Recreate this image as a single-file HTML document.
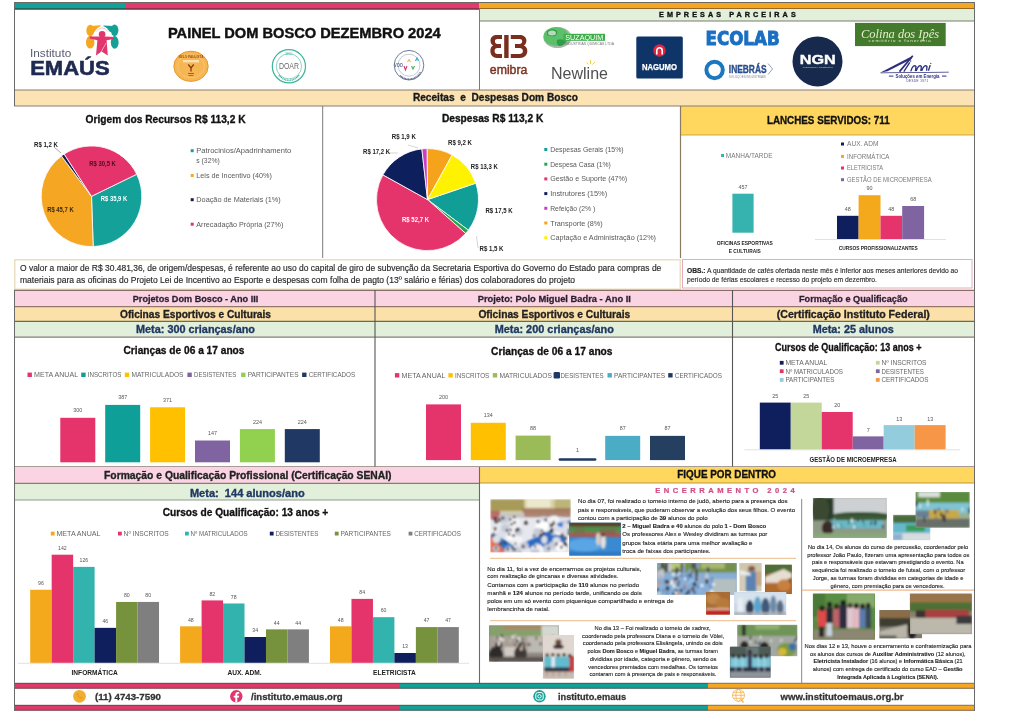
<!DOCTYPE html>
<html><head><meta charset="utf-8"><title>Painel Dom Bosco Dezembro 2024</title>
<style>html,body{margin:0;padding:0;background:#fff;overflow:hidden;}svg{display:block;}</style></head>
<body><svg width="1024" height="724" viewBox="0 0 1024 724" font-family='"Liberation Sans", Arial, sans-serif'>
<defs><filter id="bl" x="-5%" y="-5%" width="110%" height="110%"><feGaussianBlur stdDeviation="0.8"/></filter></defs>
<rect width="1024" height="724" fill="#fff"/>
<rect x="14" y="2.5" width="112" height="7" fill="#12A19A"/>
<rect x="126" y="2.5" width="353.5" height="7" fill="#E03A6E"/>
<rect x="479.5" y="2.5" width="494.5" height="7" fill="#F5A623"/>
<line x1="14" y1="2.5" x2="974" y2="2.5" stroke="#6f6a60" stroke-width="1"/>
<line x1="14" y1="9" x2="974" y2="9" stroke="#3b2a20" stroke-width="1.1"/>
<rect x="480" y="9" width="494" height="12" fill="#E2EFDA"/>
<line x1="480" y1="21" x2="974" y2="21" stroke="#7c7c72" stroke-width="1"/>
<text x="659" y="16.6" font-size="7.2" fill="#111" font-weight="bold" textLength="136.7" lengthAdjust="spacing" stroke="#111" stroke-width="0.35">EMPRESAS PARCEIRAS</text>
<rect x="14" y="90" width="960" height="16" fill="#FCE3B3"/>
<line x1="14" y1="90" x2="974" y2="90" stroke="#8a7f72" stroke-width="1.2"/>
<line x1="14" y1="106" x2="680" y2="106" stroke="#8a7f72" stroke-width="1.2"/>
<text x="495.4" y="101.4" font-size="10.6" fill="#1a1a1a" font-weight="bold" stroke="#1a1a1a" stroke-width="0.32" text-anchor="middle" textLength="165" lengthAdjust="spacingAndGlyphs" xml:space="preserve">Receitas  e  Despesas Dom Bosco</text>
<line x1="479.5" y1="9" x2="479.5" y2="90" stroke="#7a7a7a" stroke-width="1"/>
<line x1="322.7" y1="106" x2="322.7" y2="258" stroke="#7a7a7a" stroke-width="1"/>
<rect x="680" y="106" width="294" height="29" fill="#FFD65E"/>
<line x1="680" y1="106" x2="974" y2="106" stroke="#8a7f72" stroke-width="1.2"/>
<line x1="680" y1="135" x2="974" y2="135" stroke="#b89a40" stroke-width="0.8"/>
<line x1="680.5" y1="106" x2="680.5" y2="258" stroke="#8a7a60" stroke-width="1.2"/>
<text x="828.3" y="124.1" font-size="11.4" fill="#111" font-weight="bold" stroke="#111" stroke-width="0.34" text-anchor="middle" textLength="122.8" lengthAdjust="spacingAndGlyphs">LANCHES SERVIDOS: 711</text>
<rect x="14.75" y="259.75" width="665.5" height="29.5" fill="#fff" stroke="#EADFC0" stroke-width="1.5"/>
<rect x="682.5" y="259.5" width="289.5" height="28.5" fill="#fff" stroke="#E6A9BE" stroke-width="1"/>
<rect x="14" y="290" width="960" height="16" fill="#FAD4E3"/>
<rect x="14" y="306" width="960" height="15" fill="#FCE0AA"/>
<rect x="14" y="321" width="960" height="16" fill="#E2EFDA"/>
<line x1="14" y1="290.4" x2="974" y2="290.4" stroke="#8a6e64" stroke-width="1.2"/>
<line x1="14" y1="306.6" x2="974" y2="306.6" stroke="#94786a" stroke-width="1.2"/>
<line x1="14" y1="321.4" x2="974" y2="321.4" stroke="#6a6a4e" stroke-width="1.2"/>
<line x1="14" y1="337.2" x2="974" y2="337.2" stroke="#80807a" stroke-width="1.3"/>
<line x1="375" y1="290" x2="375" y2="467" stroke="#555" stroke-width="1.1"/>
<line x1="732.5" y1="290" x2="732.5" y2="467" stroke="#555" stroke-width="1.1"/>
<line x1="14" y1="466.8" x2="974" y2="466.8" stroke="#8c7b72" stroke-width="1.2"/>
<rect x="14" y="467" width="465.5" height="16" fill="#FAD4E3"/>
<rect x="14" y="483" width="465.5" height="17" fill="#E2EFDA"/>
<line x1="14" y1="483.3" x2="479" y2="483.3" stroke="#8c7b72" stroke-width="1.2"/>
<line x1="14" y1="500" x2="479" y2="500" stroke="#8c9a8c" stroke-width="1"/>
<rect x="480" y="467" width="494" height="16" fill="#FFD65E"/>
<line x1="480" y1="483" x2="974" y2="483" stroke="#b89a40" stroke-width="1"/>
<line x1="479.5" y1="467" x2="479.5" y2="683" stroke="#6a6a6a" stroke-width="1.1"/>
<rect x="14" y="683" width="386" height="5.5" fill="#DD3A6A"/>
<rect x="400" y="683" width="308" height="5.5" fill="#13A097"/>
<rect x="708" y="683" width="266" height="5.5" fill="#F5A623"/>
<line x1="14" y1="688.3" x2="974" y2="688.3" stroke="#3a2a2a" stroke-width="0.6"/>
<line x1="14" y1="683.2" x2="974" y2="683.2" stroke="#3a2a2a" stroke-width="0.5"/>
<rect x="14" y="705" width="386" height="5.5" fill="#DD3A6A"/>
<rect x="400" y="705" width="308" height="5.5" fill="#13A097"/>
<rect x="708" y="705" width="266" height="5.5" fill="#F5A623"/>
<line x1="14" y1="710.3" x2="974" y2="710.3" stroke="#3a2a2a" stroke-width="0.6"/>
<line x1="14" y1="705.2" x2="974" y2="705.2" stroke="#3a2a2a" stroke-width="0.5"/>
<line x1="14.5" y1="2" x2="14.5" y2="106" stroke="#6a6a6a" stroke-width="1"/>
<line x1="14.5" y1="290" x2="14.5" y2="711" stroke="#6a6a6a" stroke-width="1"/>
<line x1="974.5" y1="2" x2="974.5" y2="711" stroke="#6a6a6a" stroke-width="1"/>
<text x="167.9" y="37.6" font-size="14" fill="#111" font-weight="bold" stroke="#111" stroke-width="0.42" textLength="272.8" lengthAdjust="spacingAndGlyphs">PAINEL DOM BOSCO DEZEMBRO 2024</text>
<text x="29.9" y="57" font-size="10" fill="#5a5d70" textLength="41.4" lengthAdjust="spacingAndGlyphs">Instituto</text>
<text x="30.2" y="74.6" font-size="20.3" fill="#1f2a50" font-weight="bold" stroke="#1f2a50" stroke-width="0.61" textLength="79.5" lengthAdjust="spacingAndGlyphs">EMAÚS</text>
<g>
<ellipse cx="90.3" cy="30.5" rx="3.9" ry="5.8" fill="#F4A71F"/>
<ellipse cx="90.2" cy="42.2" rx="4.2" ry="6.4" fill="#F4A71F"/>
<polygon points="91,26 100.6,25.3 100.2,27.8 94.5,31.8 91,33" fill="#F4A71F"/>
<ellipse cx="114.6" cy="30.3" rx="3.8" ry="5.8" fill="#15A096"/>
<ellipse cx="114.7" cy="42.4" rx="3.9" ry="6.3" fill="#15A096"/>
<polygon points="113.5,26 103.4,25.6 103.8,27.6 110,31.8 113.5,33" fill="#15A096"/>
<circle cx="102.1" cy="33.6" r="6.4" fill="none" stroke="#fff" stroke-width="1.8"/>
<path d="M96.6,31.5 A6,6 0 0 1 107.6,31.5" fill="none" stroke="#EE9DB6" stroke-width="0.55"/>
<circle cx="102.1" cy="34.2" r="3.3" fill="#E2366E"/>
<polygon points="98.6,36.4 89.8,36.6 89.6,38.4 97.4,40.2 96,55.6 101.6,51.4 107.8,55.6 106.6,40.2 113.9,38.9 113.7,37 105.6,36.4" fill="#E2366E"/>
<path d="M106.2,43 L100.4,53.2" stroke="#fff" stroke-width="0.55"/>
</g>
<g>
<ellipse cx="191" cy="66.3" rx="17.2" ry="15" fill="#F6B653" stroke="#E8962A" stroke-width="1"/>
<ellipse cx="191" cy="66.3" rx="13.5" ry="11.5" fill="none" stroke="#F9CF85" stroke-width="0.6"/>
<text x="191" y="58" font-size="3.2" fill="#A0521A" text-anchor="middle" font-weight="bold">SELO PAULISTA</text>
<rect x="183" y="60" width="16" height="2.4" fill="#FBE0B0"/>
<path d="M188.3,64.5 L191,68 L193.7,64.5 M191,68 L191,71.5" stroke="#8A3A12" stroke-width="1.3" fill="none"/>
<rect x="188" y="73" width="6" height="0.9" fill="#A0502A"/>
<rect x="188.5" y="75" width="5" height="0.8" fill="#A0502A"/>
</g>
<g>
<circle cx="288.9" cy="66.3" r="16.6" fill="#fff" stroke="#3FB39C" stroke-width="1.2"/>
<circle cx="288.9" cy="66.3" r="12.6" fill="none" stroke="#3FB39C" stroke-width="0.6"/>
<text x="288.9" y="69.3" font-size="8.2" fill="#6a6a6a" text-anchor="middle" textLength="20" lengthAdjust="spacingAndGlyphs">DOAR</text>
<text x="288.9" y="54.5" font-size="2.6" fill="#3FB39C" text-anchor="middle">SELO</text>
<path d="M279,75 A12,12 0 0 0 299,75" stroke="#3FB39C" stroke-width="1.4" fill="none" stroke-dasharray="1,0.6"/>
</g>
<g>
<circle cx="409" cy="65.2" r="14.8" fill="#fff" stroke="#5d6d8e" stroke-width="0.9"/>
<circle cx="409" cy="65.2" r="11" fill="none" stroke="#8a97b0" stroke-width="0.5"/>
<path d="M400,75.5 A12.8,12.8 0 0 0 420.5,72" stroke="#5d6d8e" stroke-width="1.6" fill="none" stroke-dasharray="1,0.5"/>
<text x="394" y="66.5" font-size="6" fill="#5d6d8e" font-weight="bold" textLength="9" lengthAdjust="spacingAndGlyphs">VOO</text>
<path d="M404,66 L405.5,70 L407,66" stroke="#D03A6A" stroke-width="1.1" fill="none"/>
<path d="M407.5,62 L409,59.5 L410.5,62" stroke="#F4B54A" stroke-width="1.1" fill="none"/>
<path d="M411.5,66 L413,69 L414.5,66" stroke="#4CAF50" stroke-width="1.1" fill="none"/>
<path d="M415.5,61 L417,58 L418.5,61" stroke="#29A8D8" stroke-width="1.1" fill="none"/>
</g>
<g fill="#7a2e1e">
<path d="M502,35 H496.5 C492.6,35 490.5,37.5 490.5,40.8 C490.5,43 491.6,44.8 493.2,45.6 C491.3,46.4 490.4,48.5 490.4,51 C490.4,55 493,58 497,58 H502 V54 H497.5 C495.5,54 494.6,52.8 494.6,51 C494.6,49.2 495.5,48 497.5,48 H501 V44 H497.5 C495.8,44 494.9,42.8 494.9,41.2 C494.9,39.7 495.8,39 497.5,39 H502 Z"/>
<rect x="504.2" y="35" width="4.4" height="23"/>
<path d="M510.8,35 H519.8 C524,35 526.4,37.5 526.4,40.8 C526.4,43 525.3,44.8 523.8,45.6 C525.8,46.4 527.3,48.5 527.3,51 C527.3,55 524.5,58 520,58 H510.8 V54 H519.5 C521.5,54 522.9,52.8 522.9,51 C522.9,49.2 521.5,48 519.5,48 H515 V44 H519.5 C521.2,44 522.2,42.8 522.2,41.2 C522.2,39.7 521.2,39 519.5,39 H510.8 Z"/>
</g>
<text x="489.8" y="74.4" font-size="12.6" fill="#7a3422" textLength="37.6" lengthAdjust="spacingAndGlyphs" stroke="#7a3422" stroke-width="0.45">emibra</text>
<g>
<ellipse cx="557.5" cy="37.5" rx="14" ry="10.6" fill="#a8b8a8"/>
<ellipse cx="556" cy="36.5" rx="12.5" ry="9.6" fill="#5cbf6a"/>
<path d="M547,31 q4,-3 9,-1 q3,3 -1,6 q-4,1 -8,-1 z M557,40 q5,-2 9,1 q-1,5 -7,5 q-3,-2 -2,-6z" fill="#2e9e48"/>
<ellipse cx="552" cy="33" rx="4" ry="2.5" fill="#d8e8d8" opacity="0.8"/>
<rect x="563.6" y="33.8" width="41.4" height="7" fill="#3DAE49"/>
</g>
<text x="584.3" y="40" font-size="6.6" fill="#fff" text-anchor="middle" textLength="38" lengthAdjust="spacingAndGlyphs">SUZAQUIM</text>
<text x="565" y="45.4" font-size="3.2" fill="#777" textLength="49" lengthAdjust="spacingAndGlyphs">INDUSTRIAS QUIMICAS LTDA</text>
<text x="551" y="79" font-size="16.5" fill="#505050" textLength="57" lengthAdjust="spacingAndGlyphs" font-family='"Liberation Sans", Arial, sans-serif'>Newline</text>
<g stroke="#F2C230" stroke-width="0.8"><line x1="590.5" y1="64" x2="590.5" y2="60"/><line x1="592.5" y1="64.5" x2="595" y2="62"/><line x1="588.5" y1="64.5" x2="586.5" y2="62.5"/></g>
<rect x="636.3" y="36.4" width="46.5" height="42.2" fill="#0F3468" rx="1.5"/>
<circle cx="659.5" cy="50.5" r="6.2" fill="#E2233F"/><path d="M656.8,54.5 v-4 a2.7,2.7 0 0 1 5.4,0 v4" stroke="#fff" stroke-width="1.6" fill="none"/>
<text x="659.5" y="70" font-size="8.4" fill="#fff" font-weight="bold" stroke="#fff" stroke-width="0.25" text-anchor="middle" textLength="35" lengthAdjust="spacingAndGlyphs">NAGUMO</text>
<text x="705.6" y="44.7" font-size="19.6" fill="#1A6FC2" font-weight="bold" textLength="74" lengthAdjust="spacingAndGlyphs" font-family='"DejaVu Sans", "Liberation Sans", sans-serif' stroke="#1A6FC2" stroke-width="1">ECOLAB</text>
<circle cx="714.6" cy="70" r="8.2" fill="none" stroke="#1B78BE" stroke-width="4"/>
<text x="728.8" y="73.3" font-size="11.2" fill="#2A4D8E" font-weight="bold" stroke="#2A4D8E" stroke-width="0.34" textLength="37.8" lengthAdjust="spacingAndGlyphs">INEBRÁS</text>
<path d="M768,63.5 L772.5,69 L768,74.5" stroke="#7a8aa0" stroke-width="0.8" fill="none"/>
<text x="728.8" y="77.8" font-size="2.6" fill="#888" textLength="37" lengthAdjust="spacingAndGlyphs">SOLUÇÕES INDUSTRIAIS</text>
<circle cx="817.5" cy="61.4" r="25" fill="#17294D"/>
<text x="817.8" y="63.8" font-size="13.6" fill="#fff" font-weight="bold" stroke="#fff" stroke-width="0.41" text-anchor="middle" textLength="36" lengthAdjust="spacingAndGlyphs">NGN</text>
<text x="817.8" y="68.3" font-size="2.5" fill="#c8d0e0" text-anchor="middle" textLength="30" lengthAdjust="spacingAndGlyphs">engenharia e construções</text>
<rect x="855" y="22.9" width="90.7" height="23.2" fill="#437A2C"/>
<text x="900" y="37.5" font-size="13" fill="#E6EFCF" text-anchor="middle" textLength="78" lengthAdjust="spacingAndGlyphs" font-family='"Liberation Serif", serif' font-style="italic">Colina dos Ipês</text>
<text x="900" y="42.4" font-size="3.4" fill="#D8E6C0" text-anchor="middle" textLength="63" lengthAdjust="spacingAndGlyphs" letter-spacing="0.6">cemitério e funerária</text>
<g fill="#2C2F7E" stroke="none">
<polygon points="880.5,72.4 912.8,55.8 911.2,59.2 887.5,71.2"/>
<polygon points="880.5,72.4 948.8,71.8 948.8,72.6 880.5,73.2"/>
<path d="M912.8,55.8 L899.5,71.6" stroke="#2C2F7E" stroke-width="1.7" fill="none"/>
<path d="M903.8,71.6 L909.8,62.4 M910.8,71.4 C912.3,66.2 914.3,64.8 916,66.4 L915.4,71.2 M916.2,71 C917.7,66.2 919.7,64.8 921.4,66.4 L920.8,71 M921.8,70.8 C923.3,66 925.3,64.8 927,66.4 L926.6,70.8 M928.4,70.8 L930.2,65.2" stroke="#2C2F7E" stroke-width="1.3" fill="none"/>
<circle cx="910.6" cy="61" r="0.7"/><circle cx="930.8" cy="63.4" r="0.6"/><circle cx="930.5" cy="65.4" r="0.4"/>
</g>
<text x="917.5" y="78" font-size="5.2" fill="#2C2F7E" font-weight="bold" text-anchor="middle" textLength="44" lengthAdjust="spacingAndGlyphs">Soluções em Energia</text>
<rect x="888.9" y="75.6" width="4.5" height="1" fill="#2C2F7E"/><rect x="942" y="75.6" width="4.5" height="1" fill="#2C2F7E"/>
<text x="917.5" y="82.3" font-size="3" fill="#2C2F7E" text-anchor="middle" textLength="22" lengthAdjust="spacingAndGlyphs" letter-spacing="0.5">DESDE 1971</text>
<text x="165.6" y="122.7" font-size="11.2" fill="#111" font-weight="bold" stroke="#111" stroke-width="0.34" text-anchor="middle" textLength="160" lengthAdjust="spacingAndGlyphs">Origem dos Recursos R$ 113,2 K</text>
<path d="M91.50,196.30 L136.71,174.25 A50.3,50.3 0 0 1 93.20,246.57 Z" fill="#13A19A" stroke="#fff" stroke-width="0.8"/>
<path d="M91.50,196.30 L93.20,246.57 A50.3,50.3 0 0 1 61.42,155.98 Z" fill="#F5A623" stroke="#fff" stroke-width="0.8"/>
<path d="M91.50,196.30 L61.42,155.98 A50.3,50.3 0 0 1 64.17,154.07 Z" fill="#1B1B4A" stroke="#fff" stroke-width="0.8"/>
<path d="M91.50,196.30 L64.17,154.07 A50.3,50.3 0 0 1 136.71,174.25 Z" fill="#E5336B" stroke="#fff" stroke-width="0.8"/>
<line x1="61" y1="153" x2="54" y2="147" stroke="#555" stroke-width="0.5"/>
<text x="46" y="146.6" font-size="6.3" fill="#222" font-weight="bold" text-anchor="middle" textLength="24" lengthAdjust="spacingAndGlyphs">R$ 1,2 K</text>
<text x="102.6" y="166.3" font-size="6.3" fill="#4a1020" font-weight="bold" text-anchor="middle" textLength="26.5" lengthAdjust="spacingAndGlyphs">R$ 30,5 K</text>
<text x="114" y="201.3" font-size="6.3" fill="#fff" font-weight="bold" text-anchor="middle" textLength="26.5" lengthAdjust="spacingAndGlyphs">R$ 35,9 K</text>
<text x="60.4" y="212.3" font-size="6.3" fill="#3a2a10" font-weight="bold" text-anchor="middle" textLength="26.5" lengthAdjust="spacingAndGlyphs">R$ 45,7 K</text>
<rect x="190.7" y="149.20000000000002" width="3" height="3" fill="#13A19A"/>
<text x="196.3" y="153.20000000000002" font-size="7.4" fill="#595959" textLength="95" lengthAdjust="spacingAndGlyphs">Patrocinios/Apadrinhamento</text>
<rect x="190.7" y="174.0" width="3" height="3" fill="#F5A623"/>
<text x="196.3" y="178.0" font-size="7.4" fill="#595959" textLength="75.5" lengthAdjust="spacingAndGlyphs">Leis de Incentivo (40%)</text>
<rect x="190.7" y="198.20000000000002" width="3" height="3" fill="#1B1B4A"/>
<text x="196.3" y="202.20000000000002" font-size="7.4" fill="#595959" textLength="84.5" lengthAdjust="spacingAndGlyphs">Doação de Materiais (1%)</text>
<rect x="190.7" y="222.70000000000002" width="3" height="3" fill="#E5336B"/>
<text x="196.3" y="226.70000000000002" font-size="7.4" fill="#595959" textLength="87" lengthAdjust="spacingAndGlyphs">Arrecadação Própria (27%)</text>
<text x="196.3" y="162.8" font-size="7.4" fill="#595959" textLength="23.5" lengthAdjust="spacingAndGlyphs">s (32%)</text>
<text x="492.6" y="121.7" font-size="11.2" fill="#111" font-weight="bold" stroke="#111" stroke-width="0.34" text-anchor="middle" textLength="101.3" lengthAdjust="spacingAndGlyphs">Despesas R$ 113,2 K</text>
<path d="M427.50,199.60 L475.78,183.16 A51,51 0 0 1 468.33,230.15 Z" fill="#109E96" stroke="#fff" stroke-width="0.8"/>
<path d="M427.50,199.60 L468.33,230.15 A51,51 0 0 1 465.66,233.44 Z" fill="#26A84A" stroke="#fff" stroke-width="0.8"/>
<path d="M427.50,199.60 L465.66,233.44 A51,51 0 0 1 382.90,174.86 Z" fill="#E5336B" stroke="#fff" stroke-width="0.8"/>
<path d="M427.50,199.60 L382.90,174.86 A51,51 0 0 1 421.88,148.91 Z" fill="#0D1F5C" stroke="#fff" stroke-width="0.8"/>
<path d="M427.50,199.60 L421.88,148.91 A51,51 0 0 1 427.24,148.60 Z" fill="#C93FBE" stroke="#fff" stroke-width="0.8"/>
<path d="M427.50,199.60 L427.24,148.60 A51,51 0 0 1 452.18,154.97 Z" fill="#F5A31B" stroke="#fff" stroke-width="0.8"/>
<path d="M427.50,199.60 L452.18,154.97 A51,51 0 0 1 475.78,183.16 Z" fill="#FFF200" stroke="#fff" stroke-width="0.8"/>
<line x1="408" y1="145" x2="418" y2="148" stroke="#aaa" stroke-width="0.5"/>
<line x1="385" y1="153" x2="398" y2="153" stroke="#aaa" stroke-width="0.5"/>
<line x1="476.5" y1="236" x2="478" y2="248" stroke="#aaa" stroke-width="0.5"/>
<text x="403.8" y="138.6" font-size="6.3" fill="#222" font-weight="bold" text-anchor="middle" textLength="24" lengthAdjust="spacingAndGlyphs">R$ 1,9 K</text>
<text x="460" y="145.4" font-size="6.3" fill="#222" font-weight="bold" text-anchor="middle" textLength="24" lengthAdjust="spacingAndGlyphs">R$ 9,2 K</text>
<text x="376.6" y="153.5" font-size="6.3" fill="#222" font-weight="bold" text-anchor="middle" textLength="27" lengthAdjust="spacingAndGlyphs">R$ 17,2 K</text>
<text x="484.3" y="169.2" font-size="6.3" fill="#222" font-weight="bold" text-anchor="middle" textLength="27" lengthAdjust="spacingAndGlyphs">R$ 13,3 K</text>
<text x="499" y="213.1" font-size="6.3" fill="#222" font-weight="bold" text-anchor="middle" textLength="27" lengthAdjust="spacingAndGlyphs">R$ 17,5 K</text>
<text x="415.5" y="221.6" font-size="6.3" fill="#fff" font-weight="bold" text-anchor="middle" textLength="27" lengthAdjust="spacingAndGlyphs">R$ 52,7 K</text>
<text x="491.5" y="251.2" font-size="6.3" fill="#222" font-weight="bold" text-anchor="middle" textLength="24" lengthAdjust="spacingAndGlyphs">R$ 1,5 K</text>
<rect x="544.3" y="148.0" width="3" height="3" fill="#109E96"/>
<text x="550.2" y="152.0" font-size="7.4" fill="#595959" textLength="73.5" lengthAdjust="spacingAndGlyphs">Despesas Gerais (15%)</text>
<rect x="544.3" y="162.7" width="3" height="3" fill="#26A84A"/>
<text x="550.2" y="166.7" font-size="7.4" fill="#595959" textLength="60.5" lengthAdjust="spacingAndGlyphs">Despesa Casa (1%)</text>
<rect x="544.3" y="177.4" width="3" height="3" fill="#E5336B"/>
<text x="550.2" y="181.4" font-size="7.4" fill="#595959" textLength="77" lengthAdjust="spacingAndGlyphs">Gestão e Suporte (47%)</text>
<rect x="544.3" y="192.1" width="3" height="3" fill="#0D1F5C"/>
<text x="550.2" y="196.1" font-size="7.4" fill="#595959" textLength="57" lengthAdjust="spacingAndGlyphs">Instrutores (15%)</text>
<rect x="544.3" y="206.79999999999998" width="3" height="3" fill="#C93FBE"/>
<text x="550.2" y="210.79999999999998" font-size="7.4" fill="#595959" textLength="45" lengthAdjust="spacingAndGlyphs">Refeição (2% )</text>
<rect x="544.3" y="221.5" width="3" height="3" fill="#F5A31B"/>
<text x="550.2" y="225.5" font-size="7.4" fill="#595959" textLength="52.5" lengthAdjust="spacingAndGlyphs">Transporte (8%)</text>
<rect x="544.3" y="236.2" width="3" height="3" fill="#FFF200"/>
<text x="550.2" y="240.2" font-size="7.4" fill="#595959" textLength="105.8" lengthAdjust="spacingAndGlyphs">Captação e Administração (12%)</text>
<rect x="721" y="154" width="3" height="3" fill="#36B3AE"/>
<text x="725.8" y="158" font-size="6.6" fill="#7a7a7a" textLength="46.7" lengthAdjust="spacingAndGlyphs">MANHA/TARDE</text>
<rect x="732.4" y="193.7" width="21.2" height="39" fill="#36B3AE"/>
<text x="743" y="189" font-size="5.4" fill="#555" text-anchor="middle">457</text>
<text x="744.8" y="245.2" font-size="5.4" fill="#222" font-weight="bold" text-anchor="middle" textLength="56" lengthAdjust="spacingAndGlyphs">OFICINAS ESPORTIVAS</text>
<text x="744.8" y="252.8" font-size="5.4" fill="#222" font-weight="bold" text-anchor="middle" textLength="32" lengthAdjust="spacingAndGlyphs">E CULTURAIS</text>
<rect x="841" y="142.5" width="3" height="3" fill="#0F1F5E"/>
<text x="847" y="146.4" font-size="6.6" fill="#7a7a7a" textLength="31.5" lengthAdjust="spacingAndGlyphs">AUX. ADM</text>
<rect x="841" y="154.9" width="3" height="3" fill="#F4A81C"/>
<text x="847" y="158.8" font-size="6.6" fill="#7a7a7a" textLength="42.5" lengthAdjust="spacingAndGlyphs">INFORMÁTICA</text>
<rect x="841" y="166.5" width="3" height="3" fill="#E5336B"/>
<text x="847" y="170.4" font-size="6.6" fill="#7a7a7a" textLength="36" lengthAdjust="spacingAndGlyphs">ELETRICISTA</text>
<rect x="841" y="178.2" width="3" height="3" fill="#8064A2"/>
<text x="847" y="182.1" font-size="6.6" fill="#7a7a7a" textLength="84.7" lengthAdjust="spacingAndGlyphs">GESTÃO DE MICROEMPRESA</text>
<rect x="837" y="215.8" width="21.600000000000023" height="23.19999999999999" fill="#0F1F5E"/>
<text x="847.8" y="210.8" font-size="5.4" fill="#555" text-anchor="middle">48</text>
<rect x="858.6" y="195.2" width="21.899999999999977" height="43.80000000000001" fill="#F4A81C"/>
<text x="869.55" y="190.2" font-size="5.4" fill="#555" text-anchor="middle">90</text>
<rect x="880.5" y="215.8" width="21.700000000000045" height="23.19999999999999" fill="#E5336B"/>
<text x="891.35" y="210.8" font-size="5.4" fill="#555" text-anchor="middle">48</text>
<rect x="902.2" y="206" width="21.899999999999977" height="33" fill="#8064A2"/>
<text x="913.1500000000001" y="201" font-size="5.4" fill="#555" text-anchor="middle">68</text>
<line x1="815" y1="239.5" x2="946" y2="239.5" stroke="#d9d9d9" stroke-width="0.8"/>
<text x="878.3" y="250" font-size="5.4" fill="#222" font-weight="bold" text-anchor="middle" textLength="79" lengthAdjust="spacingAndGlyphs">CURSOS PROFISSIONALIZANTES</text>
<text x="20" y="271.3" font-size="8.7" fill="#2a2a2a" textLength="641.3" lengthAdjust="spacingAndGlyphs" stroke="#2a2a2a" stroke-width="0.16">O valor a maior de R$ 30.481,36, de origem/despesas, é referente ao uso do capital de giro de subvenção da Secretaria Esportiva do Governo do Estado para compras de</text>
<text x="20" y="282.7" font-size="8.7" fill="#2a2a2a" textLength="555" lengthAdjust="spacingAndGlyphs" stroke="#2a2a2a" stroke-width="0.16">materiais para as oficinas do Projeto Lei de Incentivo ao Esporte e despesas com folha de pagto (13º salário e férias) dos colaboradores do projeto</text>
<text x="687" y="272.6" font-size="7.7" fill="#222" font-weight="bold" textLength="18.5" lengthAdjust="spacingAndGlyphs" stroke="#222" stroke-width="0.2">OBS.:</text>
<text x="707" y="272.6" font-size="7.7" fill="#2a2a2a" textLength="251" lengthAdjust="spacingAndGlyphs" stroke="#2a2a2a" stroke-width="0.14">A quantidade de cafés ofertada neste mês é inferior aos meses anteriores devido ao</text>
<text x="687" y="281.7" font-size="7.7" fill="#2a2a2a" textLength="190" lengthAdjust="spacingAndGlyphs" stroke="#2a2a2a" stroke-width="0.14">período de férias escolares e recesso do projeto em dezembro.</text>
<text x="195.5" y="301.7" font-size="8.7" fill="#2a1f30" font-weight="bold" stroke="#2a1f30" stroke-width="0.26" text-anchor="middle" textLength="125.5" lengthAdjust="spacingAndGlyphs">Projetos Dom Bosco - Ano III</text>
<text x="195.5" y="317.6" font-size="10.4" fill="#222" font-weight="bold" stroke="#222" stroke-width="0.31" text-anchor="middle" textLength="151" lengthAdjust="spacingAndGlyphs">Oficinas Esportivos e Culturais</text>
<text x="195.5" y="333.3" font-size="10.4" fill="#1F3864" font-weight="bold" stroke="#1F3864" stroke-width="0.31" text-anchor="middle" textLength="119" lengthAdjust="spacingAndGlyphs">Meta: 300 crianças/ano</text>
<text x="554.3" y="301.7" font-size="8.7" fill="#2a1f30" font-weight="bold" stroke="#2a1f30" stroke-width="0.26" text-anchor="middle" textLength="153.2" lengthAdjust="spacingAndGlyphs">Projeto: Polo Miguel Badra - Ano II</text>
<text x="554.3" y="317.6" font-size="10.4" fill="#222" font-weight="bold" stroke="#222" stroke-width="0.31" text-anchor="middle" textLength="151.8" lengthAdjust="spacingAndGlyphs">Oficinas Esportivos e Culturais</text>
<text x="554.3" y="333.3" font-size="10.4" fill="#1F3864" font-weight="bold" stroke="#1F3864" stroke-width="0.31" text-anchor="middle" textLength="119.3" lengthAdjust="spacingAndGlyphs">Meta: 200 crianças/ano</text>
<text x="853.3" y="301.7" font-size="8.7" fill="#2a1f30" font-weight="bold" stroke="#2a1f30" stroke-width="0.26" text-anchor="middle" textLength="108.6" lengthAdjust="spacingAndGlyphs">Formação e Qualificação</text>
<text x="853.3" y="317.6" font-size="10.4" fill="#222" font-weight="bold" stroke="#222" stroke-width="0.31" text-anchor="middle" textLength="153.2" lengthAdjust="spacingAndGlyphs">(Certificação Instituto Federal)</text>
<text x="853.3" y="333.3" font-size="10.4" fill="#1F3864" font-weight="bold" stroke="#1F3864" stroke-width="0.31" text-anchor="middle" textLength="81.2" lengthAdjust="spacingAndGlyphs">Meta: 25 alunos</text>
<text x="184" y="353.6" font-size="10.4" fill="#111" font-weight="bold" stroke="#111" stroke-width="0.31" text-anchor="middle" textLength="121" lengthAdjust="spacingAndGlyphs">Crianças de 06 a 17 anos</text>
<rect x="27.5" y="372.6" width="4.4" height="4.4" fill="#E5336B"/>
<text x="34.1" y="377.35" font-size="7.3" fill="#666" textLength="44" lengthAdjust="spacingAndGlyphs">META ANUAL</text>
<rect x="81.2" y="372.6" width="4.4" height="4.4" fill="#0E9F98"/>
<text x="87.80000000000001" y="377.35" font-size="7.3" fill="#666" textLength="33.6" lengthAdjust="spacingAndGlyphs">INSCRITOS</text>
<rect x="124.8" y="372.6" width="4.4" height="4.4" fill="#FFC000"/>
<text x="131.39999999999998" y="377.35" font-size="7.3" fill="#666" textLength="52.1" lengthAdjust="spacingAndGlyphs">MATRICULADOS</text>
<rect x="187.4" y="372.6" width="4.4" height="4.4" fill="#8064A2"/>
<text x="194.0" y="377.35" font-size="7.3" fill="#666" textLength="42.3" lengthAdjust="spacingAndGlyphs">DESISTENTES</text>
<rect x="241.1" y="372.6" width="4.4" height="4.4" fill="#92D050"/>
<text x="247.7" y="377.35" font-size="7.3" fill="#666" textLength="50.8" lengthAdjust="spacingAndGlyphs">PARTICIPANTES</text>
<rect x="302.1" y="372.6" width="4.4" height="4.4" fill="#1F3864"/>
<text x="308.7" y="377.35" font-size="7.3" fill="#666" textLength="46.4" lengthAdjust="spacingAndGlyphs">CERTIFICADOS</text>
<rect x="60.3" y="417.81" width="35" height="44.489999999999995" fill="#E5336B"/>
<text x="77.8" y="412.31" font-size="5.4" fill="#555" text-anchor="middle">300</text>
<rect x="105.19999999999999" y="404.90790000000004" width="35" height="57.39209999999999" fill="#0E9F98"/>
<text x="122.69999999999999" y="399.40790000000004" font-size="5.4" fill="#555" text-anchor="middle">387</text>
<rect x="150.1" y="407.2807" width="35" height="55.019299999999994" fill="#FFC000"/>
<text x="167.6" y="401.7807" font-size="5.4" fill="#555" text-anchor="middle">371</text>
<rect x="195.0" y="440.4999" width="35" height="21.800099999999997" fill="#8064A2"/>
<text x="212.5" y="434.9999" font-size="5.4" fill="#555" text-anchor="middle">147</text>
<rect x="239.89999999999998" y="429.0808" width="35" height="33.2192" fill="#92D050"/>
<text x="257.4" y="423.5808" font-size="5.4" fill="#555" text-anchor="middle">224</text>
<rect x="284.8" y="429.0808" width="35" height="33.2192" fill="#1F3864"/>
<text x="302.3" y="423.5808" font-size="5.4" fill="#555" text-anchor="middle">224</text>
<text x="551.8" y="355" font-size="10.4" fill="#111" font-weight="bold" stroke="#111" stroke-width="0.31" text-anchor="middle" textLength="121.5" lengthAdjust="spacingAndGlyphs">Crianças de 06 a 17 anos</text>
<rect x="394.9" y="373.1" width="4.4" height="4.4" fill="#E5336B"/>
<text x="401.49999999999994" y="377.85" font-size="7.3" fill="#666" textLength="44" lengthAdjust="spacingAndGlyphs">META ANUAL</text>
<rect x="448.4" y="373.1" width="4.4" height="4.4" fill="#FFC000"/>
<text x="454.99999999999994" y="377.85" font-size="7.3" fill="#666" textLength="34.3" lengthAdjust="spacingAndGlyphs">INSCRITOS</text>
<rect x="492.8" y="373.1" width="4.4" height="4.4" fill="#9BBB59"/>
<text x="499.4" y="377.85" font-size="7.3" fill="#666" textLength="52.5" lengthAdjust="spacingAndGlyphs">MATRICULADOS</text>
<rect x="553.6" y="372" width="6.4" height="6.4" rx="1.2" fill="#1F3864"/>
<text x="560.6" y="377.85" font-size="7.3" fill="#666" textLength="43" lengthAdjust="spacingAndGlyphs">DESISTENTES</text>
<rect x="607.5" y="373.1" width="4.4" height="4.4" fill="#4BACC6"/>
<text x="614.1" y="377.85" font-size="7.3" fill="#666" textLength="50.9" lengthAdjust="spacingAndGlyphs">PARTICIPANTES</text>
<rect x="668.2" y="373.1" width="4.4" height="4.4" fill="#1F3864"/>
<text x="674.8000000000001" y="377.85" font-size="7.3" fill="#666" textLength="47.1" lengthAdjust="spacingAndGlyphs">CERTIFICADOS</text>
<rect x="426.0" y="404.40000000000003" width="35" height="55.7" fill="#E5336B"/>
<text x="443.5" y="398.90000000000003" font-size="5.4" fill="#555" text-anchor="middle">200</text>
<rect x="470.8" y="422.781" width="35" height="37.319" fill="#FFC000"/>
<text x="488.3" y="417.281" font-size="5.4" fill="#555" text-anchor="middle">134</text>
<rect x="515.6" y="435.59200000000004" width="35" height="24.508000000000003" fill="#9BBB59"/>
<text x="533.1" y="430.09200000000004" font-size="5.4" fill="#555" text-anchor="middle">88</text>
<rect x="558.6" y="458.2" width="37.8" height="2.6" rx="1.3" fill="#1F3864"/>
<text x="577.5" y="451.5" font-size="5.4" fill="#555" text-anchor="middle">1</text>
<rect x="605.2" y="435.8705" width="35" height="24.2295" fill="#4BACC6"/>
<text x="622.7" y="430.3705" font-size="5.4" fill="#555" text-anchor="middle">87</text>
<rect x="650.0" y="435.8705" width="35" height="24.2295" fill="#243F60"/>
<text x="667.5" y="430.3705" font-size="5.4" fill="#555" text-anchor="middle">87</text>
<text x="848.2" y="350.5" font-size="10" fill="#111" font-weight="bold" stroke="#111" stroke-width="0.30" text-anchor="middle" textLength="146.5" lengthAdjust="spacingAndGlyphs">Cursos de Qualificação: 13 anos +</text>
<rect x="779.8" y="360.90000000000003" width="3.8" height="3.8" fill="#0F1F5E"/>
<text x="785.3999999999999" y="365.35" font-size="7.0" fill="#666" textLength="42" lengthAdjust="spacingAndGlyphs">META ANUAL</text>
<rect x="875.9" y="360.90000000000003" width="3.8" height="3.8" fill="#C4D79B"/>
<text x="881.4999999999999" y="365.35" font-size="7.0" fill="#666" textLength="45" lengthAdjust="spacingAndGlyphs">Nº INSCRITOS</text>
<rect x="779.8" y="369.3" width="3.8" height="3.8" fill="#E5336B"/>
<text x="785.3999999999999" y="373.75" font-size="7.0" fill="#666" textLength="57.5" lengthAdjust="spacingAndGlyphs">Nº MATRICULADOS</text>
<rect x="875.9" y="369.3" width="3.8" height="3.8" fill="#8064A2"/>
<text x="881.4999999999999" y="373.75" font-size="7.0" fill="#666" textLength="42.3" lengthAdjust="spacingAndGlyphs">DESISTENTES</text>
<rect x="779.8" y="378.0" width="3.8" height="3.8" fill="#93CDDD"/>
<text x="785.3999999999999" y="382.45" font-size="7.0" fill="#666" textLength="49" lengthAdjust="spacingAndGlyphs">PARTICIPANTES</text>
<rect x="875.9" y="378.0" width="3.8" height="3.8" fill="#F79646"/>
<text x="881.4999999999999" y="382.45" font-size="7.0" fill="#666" textLength="47" lengthAdjust="spacingAndGlyphs">CERTIFICADOS</text>
<rect x="759.8" y="402.6" width="30.97" height="46.9" fill="#0F1F5E"/>
<text x="775.3" y="398.0" font-size="5.4" fill="#555" text-anchor="middle">25</text>
<rect x="790.77" y="402.6" width="30.97" height="46.9" fill="#C4D79B"/>
<text x="806.27" y="398.0" font-size="5.4" fill="#555" text-anchor="middle">25</text>
<rect x="821.74" y="411.98" width="30.97" height="37.519999999999996" fill="#E5336B"/>
<text x="837.24" y="407.38" font-size="5.4" fill="#555" text-anchor="middle">20</text>
<rect x="852.7099999999999" y="436.368" width="30.97" height="13.132" fill="#8064A2"/>
<text x="868.2099999999999" y="431.768" font-size="5.4" fill="#555" text-anchor="middle">7</text>
<rect x="883.68" y="425.112" width="30.97" height="24.387999999999998" fill="#93CDDD"/>
<text x="899.18" y="420.512" font-size="5.4" fill="#555" text-anchor="middle">13</text>
<rect x="914.65" y="425.112" width="30.97" height="24.387999999999998" fill="#F79646"/>
<text x="930.15" y="420.512" font-size="5.4" fill="#555" text-anchor="middle">13</text>
<line x1="744.5" y1="449.8" x2="960" y2="449.8" stroke="#d9d9d9" stroke-width="0.8"/>
<text x="853" y="461.8" font-size="6.8" fill="#222" font-weight="bold" text-anchor="middle" textLength="87" lengthAdjust="spacingAndGlyphs">GESTÃO DE MICROEMPRESA</text>
<text x="247.8" y="478.7" font-size="10.4" fill="#222" font-weight="bold" stroke="#222" stroke-width="0.31" text-anchor="middle" textLength="287.5" lengthAdjust="spacingAndGlyphs">Formação e Qualificação Profissional (Certificação SENAI)</text>
<text x="247.3" y="496.5" font-size="10.4" fill="#1F3864" font-weight="bold" stroke="#1F3864" stroke-width="0.31" text-anchor="middle" textLength="114.8" lengthAdjust="spacingAndGlyphs" xml:space="preserve">Meta:  144 alunos/ano</text>
<text x="245.5" y="515.6" font-size="10.4" fill="#111" font-weight="bold" stroke="#111" stroke-width="0.31" text-anchor="middle" textLength="165.6" lengthAdjust="spacingAndGlyphs">Cursos de Qualificação: 13 anos +</text>
<rect x="50.8" y="531.7" width="3.8" height="3.8" fill="#F4A81C"/>
<text x="56.39999999999999" y="536.15" font-size="7.0" fill="#666" textLength="44.2" lengthAdjust="spacingAndGlyphs">META ANUAL</text>
<rect x="118" y="531.7" width="3.8" height="3.8" fill="#E5336B"/>
<text x="123.6" y="536.15" font-size="7.0" fill="#666" textLength="45.2" lengthAdjust="spacingAndGlyphs">Nº INSCRITOS</text>
<rect x="185" y="531.7" width="3.8" height="3.8" fill="#33B3AE"/>
<text x="190.60000000000002" y="536.15" font-size="7.0" fill="#666" textLength="57" lengthAdjust="spacingAndGlyphs">Nº MATRICULADOS</text>
<rect x="269.8" y="531.7" width="3.8" height="3.8" fill="#0F1F5E"/>
<text x="275.40000000000003" y="536.15" font-size="7.0" fill="#666" textLength="43" lengthAdjust="spacingAndGlyphs">DESISTENTES</text>
<rect x="334.8" y="531.7" width="3.8" height="3.8" fill="#76923C"/>
<text x="340.40000000000003" y="536.15" font-size="7.0" fill="#666" textLength="50.5" lengthAdjust="spacingAndGlyphs">PARTICIPANTES</text>
<rect x="408.6" y="531.7" width="3.8" height="3.8" fill="#7F7F7F"/>
<text x="414.20000000000005" y="536.15" font-size="7.0" fill="#666" textLength="46.7" lengthAdjust="spacingAndGlyphs">CERTIFICADOS</text>
<rect x="30.2" y="589.7479999999999" width="21.47" height="73.152" fill="#F4A81C"/>
<text x="40.9" y="584.948" font-size="5.2" fill="#555" text-anchor="middle">96</text>
<rect x="51.67" y="554.6959999999999" width="21.47" height="108.20400000000001" fill="#E5336B"/>
<text x="62.370000000000005" y="549.896" font-size="5.2" fill="#555" text-anchor="middle">142</text>
<rect x="73.14" y="566.8879999999999" width="21.47" height="96.012" fill="#33B3AE"/>
<text x="83.84" y="562.088" font-size="5.2" fill="#555" text-anchor="middle">126</text>
<rect x="94.61" y="627.848" width="21.47" height="35.052" fill="#0F1F5E"/>
<text x="105.31" y="623.048" font-size="5.2" fill="#555" text-anchor="middle">46</text>
<rect x="116.08" y="601.9399999999999" width="21.47" height="60.96" fill="#76923C"/>
<text x="126.78" y="597.14" font-size="5.2" fill="#555" text-anchor="middle">80</text>
<rect x="137.54999999999998" y="601.9399999999999" width="21.47" height="60.96" fill="#7F7F7F"/>
<text x="148.24999999999997" y="597.14" font-size="5.2" fill="#555" text-anchor="middle">80</text>
<text x="94.60000000000001" y="674.6" font-size="6.6" fill="#222" font-weight="bold" text-anchor="middle">INFORMÁTICA</text>
<rect x="180.1" y="626.324" width="21.47" height="36.576" fill="#F4A81C"/>
<text x="190.79999999999998" y="621.524" font-size="5.2" fill="#555" text-anchor="middle">48</text>
<rect x="201.57" y="600.4159999999999" width="21.47" height="62.484" fill="#E5336B"/>
<text x="212.26999999999998" y="595.616" font-size="5.2" fill="#555" text-anchor="middle">82</text>
<rect x="223.04" y="603.4639999999999" width="21.47" height="59.436" fill="#33B3AE"/>
<text x="233.73999999999998" y="598.664" font-size="5.2" fill="#555" text-anchor="middle">78</text>
<rect x="244.51" y="636.992" width="21.47" height="25.908" fill="#0F1F5E"/>
<text x="255.20999999999998" y="632.192" font-size="5.2" fill="#555" text-anchor="middle">34</text>
<rect x="265.98" y="629.372" width="21.47" height="33.528" fill="#76923C"/>
<text x="276.68" y="624.572" font-size="5.2" fill="#555" text-anchor="middle">44</text>
<rect x="287.45" y="629.372" width="21.47" height="33.528" fill="#7F7F7F"/>
<text x="298.15" y="624.572" font-size="5.2" fill="#555" text-anchor="middle">44</text>
<text x="244.5" y="674.6" font-size="6.6" fill="#222" font-weight="bold" text-anchor="middle">AUX. ADM.</text>
<rect x="330.0" y="626.324" width="21.47" height="36.576" fill="#F4A81C"/>
<text x="340.7" y="621.524" font-size="5.2" fill="#555" text-anchor="middle">48</text>
<rect x="351.47" y="598.8919999999999" width="21.47" height="64.008" fill="#E5336B"/>
<text x="362.17" y="594.092" font-size="5.2" fill="#555" text-anchor="middle">84</text>
<rect x="372.94" y="617.18" width="21.47" height="45.72" fill="#33B3AE"/>
<text x="383.64" y="612.38" font-size="5.2" fill="#555" text-anchor="middle">60</text>
<rect x="394.40999999999997" y="652.994" width="21.47" height="9.906" fill="#0F1F5E"/>
<text x="405.10999999999996" y="648.1940000000001" font-size="5.2" fill="#555" text-anchor="middle">13</text>
<rect x="415.88" y="627.086" width="21.47" height="35.814" fill="#76923C"/>
<text x="426.58" y="622.2860000000001" font-size="5.2" fill="#555" text-anchor="middle">47</text>
<rect x="437.35" y="627.086" width="21.47" height="35.814" fill="#7F7F7F"/>
<text x="448.05" y="622.2860000000001" font-size="5.2" fill="#555" text-anchor="middle">47</text>
<text x="394.4" y="674.6" font-size="6.6" fill="#222" font-weight="bold" text-anchor="middle">ELETRICISTA</text>
<line x1="18" y1="663.3" x2="469" y2="663.3" stroke="#d9d9d9" stroke-width="0.8"/>
<text x="726.7" y="478.4" font-size="10.6" fill="#111" font-weight="bold" stroke="#111" stroke-width="0.32" text-anchor="middle" textLength="98.7" lengthAdjust="spacingAndGlyphs">FIQUE POR DENTRO</text>
<text x="655.3" y="493.3" font-size="7.6" fill="#D24C86" font-weight="bold" stroke="#D24C86" stroke-width="0.23" textLength="139.4" lengthAdjust="spacing">ENCERRAMENTO 2024</text>
<line x1="801.7" y1="499" x2="801.7" y2="683" stroke="#888" stroke-width="1"/>
<line x1="490" y1="558.3" x2="796" y2="558.3" stroke="#F0C8A0" stroke-width="1.2"/>
<line x1="490" y1="620.6" x2="796" y2="620.6" stroke="#F0C8A0" stroke-width="1.2"/>
<line x1="802" y1="590.1" x2="974" y2="590.1" stroke="#F0B890" stroke-width="1.2"/>
<clipPath id="cp1"><rect x="490.3" y="499.2" width="80.5" height="53.2"/></clipPath><g clip-path="url(#cp1)"><rect x="490.3" y="499.2" width="80.5" height="53.2" fill="#e6e8ee"/><g filter="url(#bl)"><rect x="490.3" y="499.2" width="80.5" height="14.9" fill="#d8d0a2" opacity="1"/><rect x="490.3" y="499.2" width="33.8" height="11.7" fill="#a89a58" opacity="1"/><rect x="526.5" y="499.2" width="24.1" height="8.5" fill="#ece8cc" opacity="1"/><rect x="554.7" y="499.2" width="16.1" height="11.7" fill="#bdb478" opacity="1"/><rect x="522.5" y="508.2" width="48.3" height="9.0" fill="#9a6454" opacity="0.75"/><rect x="490.3" y="510.9" width="9.7" height="8.5" fill="#b05050" opacity="0.8"/><rect x="500.0" y="512.5" width="24.1" height="5.3" fill="#c8c4c0" opacity="1"/><polygon points="490.3,533.2 506.4,552.4 490.3,552.4" fill="#e46a4a" opacity="1"/><polygon points="490.3,530.1 522.5,552.4 506.4,552.4 490.3,535.4" fill="#2a72c4" opacity="1"/><polygon points="524.1,542.8 546.6,532.2 566.8,523.1 570.8,524.7 570.8,540.7 548.3,549.7 534.6,552.4" fill="#2a6ac0" opacity="1"/><polygon points="556.3,523.1 570.8,519.4 570.8,532.2 562.8,532.2" fill="#3a7ed0" opacity="1"/><ellipse cx="510.3" cy="536.3" rx="3.71" ry="3.96" fill="#ffffff" opacity="1"/><ellipse cx="538.7" cy="548.3" rx="3.95" ry="3.84" fill="#f4f4f8" opacity="1"/><ellipse cx="568.9" cy="533.9" rx="4.84" ry="3.67" fill="#f4f4f8" opacity="1"/><ellipse cx="509.8" cy="523.4" rx="5.05" ry="3.48" fill="#ffffff" opacity="1"/><ellipse cx="543.8" cy="520.5" rx="4.65" ry="3.93" fill="#dcdfe8" opacity="1"/><ellipse cx="552.2" cy="545.5" rx="3.47" ry="3.94" fill="#c8ccd8" opacity="1"/><ellipse cx="547.1" cy="548.7" rx="3.77" ry="4.40" fill="#c8ccd8" opacity="1"/><ellipse cx="566.4" cy="522.8" rx="3.70" ry="2.69" fill="#c8ccd8" opacity="1"/><ellipse cx="508.7" cy="550.2" rx="3.87" ry="4.01" fill="#dcdfe8" opacity="1"/><ellipse cx="524.5" cy="545.8" rx="4.20" ry="3.80" fill="#c8ccd8" opacity="1"/><ellipse cx="537.1" cy="548.2" rx="4.46" ry="4.68" fill="#dcdfe8" opacity="1"/><ellipse cx="568.5" cy="540.5" rx="3.21" ry="4.53" fill="#ffffff" opacity="1"/><ellipse cx="547.1" cy="525.3" rx="4.83" ry="3.89" fill="#dcdfe8" opacity="1"/><ellipse cx="501.5" cy="534.3" rx="4.36" ry="3.69" fill="#dcdfe8" opacity="1"/><ellipse cx="553.8" cy="531.9" rx="3.18" ry="3.26" fill="#c8ccd8" opacity="1"/><ellipse cx="559.4" cy="519.8" rx="4.30" ry="2.71" fill="#dcdfe8" opacity="1"/><ellipse cx="534.5" cy="548.8" rx="3.49" ry="3.13" fill="#ffffff" opacity="1"/><ellipse cx="515.8" cy="520.9" rx="4.27" ry="2.68" fill="#f4f4f8" opacity="1"/><ellipse cx="567.0" cy="528.0" rx="3.45" ry="4.15" fill="#dcdfe8" opacity="1"/><ellipse cx="516.2" cy="550.0" rx="4.98" ry="3.45" fill="#c8ccd8" opacity="1"/><ellipse cx="559.1" cy="531.1" rx="4.91" ry="4.13" fill="#ffffff" opacity="1"/><ellipse cx="539.8" cy="549.4" rx="4.04" ry="3.57" fill="#f4f4f8" opacity="1"/><ellipse cx="564.3" cy="532.8" rx="3.44" ry="3.28" fill="#dcdfe8" opacity="1"/><ellipse cx="492.8" cy="532.0" rx="4.22" ry="2.65" fill="#f4f4f8" opacity="1"/><ellipse cx="496.6" cy="539.0" rx="3.94" ry="4.12" fill="#dcdfe8" opacity="1"/><ellipse cx="539.0" cy="527.6" rx="4.00" ry="3.92" fill="#ffffff" opacity="1"/><ellipse cx="566.4" cy="526.6" rx="3.92" ry="3.93" fill="#dcdfe8" opacity="1"/><ellipse cx="505.6" cy="524.5" rx="4.65" ry="4.49" fill="#dcdfe8" opacity="1"/><ellipse cx="515.1" cy="530.8" rx="4.68" ry="2.67" fill="#f4f4f8" opacity="1"/><ellipse cx="515.9" cy="525.7" rx="4.76" ry="3.14" fill="#f4f4f8" opacity="1"/><ellipse cx="544.3" cy="539.8" rx="3.05" ry="3.95" fill="#dcdfe8" opacity="1"/><ellipse cx="544.1" cy="525.8" rx="4.77" ry="4.75" fill="#ffffff" opacity="1"/><ellipse cx="517.9" cy="539.8" rx="4.95" ry="3.61" fill="#f4f4f8" opacity="1"/><ellipse cx="552.7" cy="519.5" rx="5.13" ry="3.31" fill="#f4f4f8" opacity="1"/><ellipse cx="558.7" cy="529.6" rx="4.82" ry="2.80" fill="#dcdfe8" opacity="1"/><ellipse cx="537.5" cy="532.2" rx="4.07" ry="4.51" fill="#c8ccd8" opacity="1"/><ellipse cx="518.7" cy="532.1" rx="3.83" ry="3.52" fill="#c8ccd8" opacity="1"/><ellipse cx="504.0" cy="518.5" rx="5.10" ry="4.57" fill="#c8ccd8" opacity="1"/><ellipse cx="535.1" cy="550.9" rx="4.55" ry="2.68" fill="#c8ccd8" opacity="1"/><ellipse cx="556.6" cy="540.2" rx="4.07" ry="3.25" fill="#dcdfe8" opacity="1"/><ellipse cx="560.7" cy="546.8" rx="4.89" ry="4.78" fill="#ffffff" opacity="1"/><ellipse cx="554.5" cy="519.8" rx="5.00" ry="4.16" fill="#f4f4f8" opacity="1"/><ellipse cx="561.2" cy="548.0" rx="4.21" ry="2.64" fill="#ffffff" opacity="1"/><ellipse cx="505.2" cy="528.2" rx="4.42" ry="3.78" fill="#c8ccd8" opacity="1"/><ellipse cx="496.0" cy="548.5" rx="3.09" ry="2.89" fill="#c8ccd8" opacity="1"/><ellipse cx="510.2" cy="519.7" rx="1.28" ry="1.35" fill="#2a2226" opacity="1"/><ellipse cx="493.4" cy="534.6" rx="1.20" ry="2.20" fill="#2a2226" opacity="1"/><ellipse cx="509.1" cy="534.2" rx="1.19" ry="1.37" fill="#2a2226" opacity="1"/><ellipse cx="512.1" cy="547.8" rx="0.98" ry="1.85" fill="#3a3030" opacity="1"/><ellipse cx="553.8" cy="522.7" rx="1.21" ry="1.83" fill="#5a4a40" opacity="1"/><ellipse cx="566.2" cy="544.7" rx="1.26" ry="2.05" fill="#3a3030" opacity="1"/><ellipse cx="543.8" cy="533.2" rx="1.10" ry="1.68" fill="#2a2226" opacity="1"/><ellipse cx="564.9" cy="543.6" rx="1.73" ry="2.05" fill="#2a2226" opacity="1"/><ellipse cx="562.1" cy="535.4" rx="1.68" ry="2.06" fill="#5a4a40" opacity="1"/><ellipse cx="507.0" cy="530.4" rx="1.19" ry="1.65" fill="#2a2226" opacity="1"/><ellipse cx="515.5" cy="543.5" rx="0.99" ry="1.24" fill="#5a4a40" opacity="1"/><ellipse cx="569.0" cy="533.6" rx="1.49" ry="1.91" fill="#2a2226" opacity="1"/><ellipse cx="569.0" cy="522.8" rx="1.30" ry="1.40" fill="#5a4a40" opacity="1"/><ellipse cx="526.0" cy="522.4" rx="1.32" ry="1.79" fill="#5a4a40" opacity="1"/><ellipse cx="535.1" cy="546.5" rx="1.04" ry="1.25" fill="#2a2226" opacity="1"/><ellipse cx="513.4" cy="535.7" rx="1.67" ry="1.32" fill="#2a2226" opacity="1"/><ellipse cx="514.4" cy="517.1" rx="1.25" ry="1.28" fill="#3a3030" opacity="1"/><ellipse cx="548.7" cy="548.4" rx="0.97" ry="1.49" fill="#2a2226" opacity="1"/><ellipse cx="551.8" cy="530.0" rx="1.73" ry="1.83" fill="#2a2226" opacity="1"/><ellipse cx="514.6" cy="522.6" rx="1.32" ry="1.33" fill="#3a3030" opacity="1"/><ellipse cx="538.2" cy="521.5" rx="1.43" ry="1.56" fill="#3a3030" opacity="1"/><ellipse cx="505.0" cy="542.5" rx="1.26" ry="1.49" fill="#2a2226" opacity="1"/><ellipse cx="525.9" cy="523.2" rx="1.71" ry="1.31" fill="#2a2226" opacity="1"/><ellipse cx="496.2" cy="521.9" rx="1.51" ry="1.34" fill="#2a2226" opacity="1"/><ellipse cx="534.1" cy="535.8" rx="1.22" ry="1.23" fill="#5a4a40" opacity="1"/><ellipse cx="514.5" cy="549.6" rx="1.49" ry="1.40" fill="#2a2226" opacity="1"/><ellipse cx="510.6" cy="530.0" rx="0.99" ry="1.62" fill="#2a2226" opacity="1"/><ellipse cx="541.9" cy="530.6" rx="1.14" ry="1.38" fill="#2a2226" opacity="1"/><ellipse cx="511.6" cy="524.3" rx="1.13" ry="1.43" fill="#3a3030" opacity="1"/><ellipse cx="502.9" cy="517.9" rx="1.72" ry="1.77" fill="#5a4a40" opacity="1"/><ellipse cx="523.1" cy="546.4" rx="1.49" ry="2.00" fill="#5a4a40" opacity="1"/><ellipse cx="495.0" cy="529.2" rx="1.31" ry="2.14" fill="#5a4a40" opacity="1"/><ellipse cx="561.4" cy="547.2" rx="1.23" ry="1.86" fill="#5a4a40" opacity="1"/><ellipse cx="516.3" cy="530.3" rx="1.13" ry="2.01" fill="#3a3030" opacity="1"/><ellipse cx="518.1" cy="529.4" rx="1.37" ry="2.07" fill="#3a3030" opacity="1"/><ellipse cx="566.2" cy="538.6" rx="0.99" ry="2.11" fill="#2a2226" opacity="1"/><ellipse cx="551.2" cy="525.3" rx="1.66" ry="2.08" fill="#5a4a40" opacity="1"/><ellipse cx="541.0" cy="535.3" rx="1.57" ry="2.14" fill="#2a2226" opacity="1"/><ellipse cx="553.6" cy="523.3" rx="1.09" ry="1.81" fill="#3a3030" opacity="1"/><ellipse cx="500.9" cy="543.4" rx="1.60" ry="2.09" fill="#5a4a40" opacity="1"/><ellipse cx="496.0" cy="548.1" rx="1.09" ry="1.81" fill="#5a4a40" opacity="1"/><ellipse cx="551.7" cy="532.0" rx="1.39" ry="1.22" fill="#2a2226" opacity="1"/><ellipse cx="545.7" cy="520.0" rx="1.42" ry="1.45" fill="#2a2226" opacity="1"/><ellipse cx="495.1" cy="518.9" rx="1.68" ry="2.12" fill="#3a3030" opacity="1"/><ellipse cx="556.6" cy="544.0" rx="1.03" ry="1.75" fill="#3a3030" opacity="1"/><ellipse cx="507.8" cy="549.0" rx="1.28" ry="1.97" fill="#3a3030" opacity="1"/><ellipse cx="499.3" cy="520.1" rx="1.47" ry="2.10" fill="#5a4a40" opacity="1"/><ellipse cx="569.2" cy="530.2" rx="1.54" ry="1.65" fill="#5a4a40" opacity="1"/></g></g>
<clipPath id="cp2"><rect x="569.1" y="522.4" width="52.0" height="33.4"/></clipPath><g clip-path="url(#cp2)"><rect x="569.1" y="522.4" width="52.0" height="33.4" fill="#3a8ad2"/><g filter="url(#bl)"><rect x="569.1" y="522.4" width="52.0" height="4.7" fill="#5a3a28" opacity="1"/><rect x="569.1" y="526.4" width="52.0" height="6.7" fill="#4e9048" opacity="1"/><rect x="569.1" y="532.4" width="52.0" height="4.7" fill="#a85a58" opacity="1"/><rect x="574.3" y="527.1" width="10.4" height="8.3" fill="#7a6a50" opacity="0.6"/><rect x="600.3" y="528.4" width="15.6" height="6.7" fill="#8a5a50" opacity="0.6"/><ellipse cx="584.7" cy="545.1" rx="18.20" ry="6.68" fill="#5aa6e4" opacity="1"/><ellipse cx="603.4" cy="541.8" rx="2.60" ry="7.35" fill="#e8e0d8" opacity="1"/><ellipse cx="598.2" cy="539.1" rx="2.34" ry="6.68" fill="#d8d0c8" opacity="1"/><ellipse cx="603.4" cy="535.1" rx="1.56" ry="1.67" fill="#3a2a20" opacity="1"/><rect x="569.1" y="551.8" width="52.0" height="4.0" fill="#2e78c2" opacity="1"/></g></g>
<clipPath id="cp3"><rect x="812.9" y="497.9" width="73.9" height="40.1"/></clipPath><g clip-path="url(#cp3)"><rect x="812.9" y="497.9" width="73.9" height="40.1" fill="#a8b0a8"/><g filter="url(#bl)"><rect x="812.9" y="497.9" width="73.9" height="20.1" fill="#cdd1d4" opacity="1"/><rect x="812.9" y="497.9" width="20.7" height="26.1" fill="#2c3a2a" opacity="1"/><ellipse cx="820.3" cy="509.9" rx="8.87" ry="14.04" fill="#3a4a32" opacity="1"/><ellipse cx="860.9" cy="515.9" rx="29.56" ry="4.01" fill="#2e4a2a" opacity="1"/><rect x="835.1" y="514.7" width="51.7" height="5.6" fill="#3a5a34" opacity="1"/><rect x="812.9" y="520.4" width="73.9" height="17.6" fill="#8c9a86" opacity="1"/><rect x="831.4" y="520.4" width="51.7" height="8.0" fill="#6ab8c4" opacity="1"/><ellipse cx="827.7" cy="528.0" rx="5.91" ry="7.22" fill="#3a2a28" opacity="1"/><rect x="812.9" y="533.2" width="73.9" height="4.8" fill="#88a878" opacity="1"/><ellipse cx="854.8" cy="524.4" rx="1.11" ry="1.96" fill="#4a98a8" opacity="1"/><ellipse cx="875.6" cy="521.5" rx="1.05" ry="1.98" fill="#4a98a8" opacity="1"/><ellipse cx="872.4" cy="520.7" rx="0.78" ry="1.51" fill="#4a98a8" opacity="1"/><ellipse cx="864.2" cy="524.7" rx="0.83" ry="1.95" fill="#4a98a8" opacity="1"/><ellipse cx="863.2" cy="521.2" rx="0.63" ry="2.04" fill="#2a3a48" opacity="1"/><ellipse cx="833.2" cy="527.0" rx="0.94" ry="2.34" fill="#e8eef0" opacity="1"/><ellipse cx="854.2" cy="526.7" rx="0.90" ry="2.17" fill="#e8eef0" opacity="1"/><ellipse cx="831.6" cy="520.6" rx="0.97" ry="1.89" fill="#4a98a8" opacity="1"/><ellipse cx="882.9" cy="526.7" rx="1.00" ry="1.78" fill="#2a3a48" opacity="1"/><ellipse cx="857.9" cy="520.2" rx="0.92" ry="1.53" fill="#2a3a48" opacity="1"/><ellipse cx="875.2" cy="523.1" rx="1.13" ry="2.42" fill="#2a3a48" opacity="1"/><ellipse cx="842.4" cy="527.4" rx="0.65" ry="1.86" fill="#4a98a8" opacity="1"/><ellipse cx="851.9" cy="520.5" rx="0.96" ry="2.34" fill="#e8eef0" opacity="1"/><ellipse cx="848.8" cy="522.5" rx="0.63" ry="1.90" fill="#2a3a48" opacity="1"/><ellipse cx="838.3" cy="525.6" rx="0.63" ry="1.96" fill="#e8eef0" opacity="1"/><ellipse cx="840.6" cy="524.4" rx="0.86" ry="1.63" fill="#4a98a8" opacity="1"/><ellipse cx="871.2" cy="523.3" rx="0.82" ry="1.88" fill="#2a3a48" opacity="1"/><ellipse cx="831.4" cy="526.9" rx="1.14" ry="2.12" fill="#2a3a48" opacity="1"/></g></g>
<clipPath id="cp4"><rect x="893.0" y="514.8" width="37.4" height="25.4"/></clipPath><g clip-path="url(#cp4)"><rect x="893.0" y="514.8" width="37.4" height="25.4" fill="#c8d8e0"/><g filter="url(#bl)"><rect x="893.0" y="514.8" width="37.4" height="8.9" fill="#4a6a3a" opacity="1"/><rect x="893.0" y="522.9" width="37.4" height="10.2" fill="#64b8cc" opacity="1"/><rect x="906.1" y="525.0" width="18.7" height="6.3" fill="#3e9a52" opacity="1"/><rect x="893.0" y="533.1" width="37.4" height="7.1" fill="#d8dcdf" opacity="1"/><rect x="893.0" y="533.8" width="9.3" height="6.3" fill="#8ab0d0" opacity="1"/></g></g>
<clipPath id="cp5"><rect x="915.5" y="491.9" width="54.2" height="35.8"/></clipPath><g clip-path="url(#cp5)"><rect x="915.5" y="491.9" width="54.2" height="35.8" fill="#9ab090"/><g filter="url(#bl)"><rect x="915.5" y="491.9" width="54.2" height="14.3" fill="#5a8a3a" opacity="1"/><rect x="918.2" y="491.9" width="21.7" height="5.4" fill="#d8e0dc" opacity="1"/><rect x="915.5" y="502.6" width="54.2" height="10.7" fill="#7ec4d4" opacity="1"/><rect x="929.0" y="509.8" width="29.8" height="8.9" fill="#c8a848" opacity="1"/><rect x="915.5" y="510.5" width="13.6" height="7.2" fill="#6a8090" opacity="1"/><rect x="915.5" y="518.8" width="54.2" height="8.9" fill="#686e68" opacity="1"/><ellipse cx="941.2" cy="514.4" rx="0.89" ry="2.25" fill="#2a2a40" opacity="1"/><ellipse cx="969.5" cy="511.3" rx="0.88" ry="2.80" fill="#4a6a8a" opacity="1"/><ellipse cx="927.8" cy="502.7" rx="0.87" ry="3.69" fill="#e0e8ec" opacity="1"/><ellipse cx="924.3" cy="518.9" rx="0.60" ry="3.41" fill="#2a2a40" opacity="1"/><ellipse cx="943.3" cy="517.3" rx="0.90" ry="3.38" fill="#2a2a40" opacity="1"/><ellipse cx="916.5" cy="503.7" rx="1.02" ry="2.88" fill="#2a2a40" opacity="1"/><ellipse cx="969.1" cy="510.2" rx="0.79" ry="3.14" fill="#2a2a40" opacity="1"/><ellipse cx="944.7" cy="518.4" rx="0.84" ry="3.68" fill="#2a2a40" opacity="1"/><ellipse cx="945.6" cy="511.7" rx="0.61" ry="3.05" fill="#4a6a8a" opacity="1"/><ellipse cx="947.8" cy="511.2" rx="0.76" ry="2.06" fill="#4a6a8a" opacity="1"/><ellipse cx="920.0" cy="506.1" rx="0.95" ry="2.45" fill="#e0e8ec" opacity="1"/><ellipse cx="962.4" cy="509.5" rx="0.72" ry="2.44" fill="#e0e8ec" opacity="1"/><ellipse cx="935.2" cy="511.8" rx="0.96" ry="2.86" fill="#2a2a40" opacity="1"/><ellipse cx="936.1" cy="518.0" rx="0.59" ry="2.05" fill="#4a6a8a" opacity="1"/><ellipse cx="938.7" cy="509.6" rx="0.95" ry="2.18" fill="#4a6a8a" opacity="1"/><ellipse cx="927.5" cy="504.0" rx="0.70" ry="2.75" fill="#e0e8ec" opacity="1"/></g></g>
<clipPath id="cp6"><rect x="657.1" y="563.0" width="79.7" height="31.8"/></clipPath><g clip-path="url(#cp6)"><rect x="657.1" y="563.0" width="79.7" height="31.8" fill="#7ea4c8"/><g filter="url(#bl)"><rect x="657.1" y="563.0" width="79.7" height="10.8" fill="#74904c" opacity="1"/><rect x="669.1" y="563.0" width="15.9" height="6.4" fill="#b8c870" opacity="1"/><rect x="700.9" y="563.0" width="23.9" height="5.7" fill="#a8b870" opacity="1"/><rect x="661.1" y="563.0" width="2.4" height="12.7" fill="#3a3a2a" opacity="1"/><rect x="681.0" y="563.0" width="2.0" height="11.1" fill="#4a4030" opacity="1"/><rect x="695.4" y="563.0" width="1.6" height="9.5" fill="#4a4030" opacity="1"/><rect x="657.1" y="572.5" width="79.7" height="22.3" fill="#86aed6" opacity="1"/><rect x="712.9" y="578.9" width="23.9" height="15.9" fill="#b4c0c0" opacity="1"/><ellipse cx="692.8" cy="589.1" rx="1.69" ry="2.41" fill="#5a4a48" opacity="1"/><ellipse cx="694.5" cy="584.3" rx="1.73" ry="2.22" fill="#2e3448" opacity="1"/><ellipse cx="694.3" cy="592.6" rx="1.10" ry="1.87" fill="#2e3448" opacity="1"/><ellipse cx="678.9" cy="574.8" rx="1.22" ry="2.17" fill="#6a8ec0" opacity="1"/><ellipse cx="673.1" cy="592.9" rx="1.66" ry="1.52" fill="#90b8e0" opacity="1"/><ellipse cx="661.2" cy="586.3" rx="1.39" ry="1.49" fill="#90b8e0" opacity="1"/><ellipse cx="657.4" cy="589.8" rx="1.83" ry="1.53" fill="#2e3448" opacity="1"/><ellipse cx="673.7" cy="593.9" rx="1.47" ry="2.11" fill="#2e3448" opacity="1"/><ellipse cx="667.5" cy="594.1" rx="1.17" ry="2.44" fill="#6a8ec0" opacity="1"/><ellipse cx="674.2" cy="580.6" rx="1.15" ry="1.50" fill="#a4c8ea" opacity="1"/><ellipse cx="676.1" cy="590.7" rx="1.51" ry="2.02" fill="#5a4a48" opacity="1"/><ellipse cx="676.5" cy="579.4" rx="1.71" ry="1.89" fill="#c89a80" opacity="1"/><ellipse cx="667.7" cy="583.1" rx="1.16" ry="1.63" fill="#a4c8ea" opacity="1"/><ellipse cx="711.6" cy="580.5" rx="1.35" ry="1.96" fill="#6a8ec0" opacity="1"/><ellipse cx="678.1" cy="585.4" rx="1.01" ry="1.39" fill="#2e3448" opacity="1"/><ellipse cx="692.9" cy="593.8" rx="1.11" ry="1.62" fill="#90b8e0" opacity="1"/><ellipse cx="711.2" cy="580.2" rx="1.31" ry="1.94" fill="#90b8e0" opacity="1"/><ellipse cx="683.7" cy="585.7" rx="1.68" ry="1.76" fill="#c89a80" opacity="1"/><ellipse cx="659.2" cy="593.6" rx="1.08" ry="1.73" fill="#e6eef6" opacity="1"/><ellipse cx="677.9" cy="575.8" rx="1.24" ry="2.14" fill="#a4c8ea" opacity="1"/><ellipse cx="675.0" cy="579.6" rx="1.16" ry="1.43" fill="#2e3448" opacity="1"/><ellipse cx="698.5" cy="579.4" rx="1.42" ry="2.16" fill="#a4c8ea" opacity="1"/><ellipse cx="713.7" cy="584.4" rx="1.35" ry="1.61" fill="#e6eef6" opacity="1"/><ellipse cx="676.8" cy="578.1" rx="1.56" ry="1.50" fill="#5a4a48" opacity="1"/><ellipse cx="659.0" cy="583.5" rx="1.73" ry="1.49" fill="#5a4a48" opacity="1"/><ellipse cx="689.5" cy="575.5" rx="1.78" ry="1.81" fill="#2e3448" opacity="1"/><ellipse cx="682.0" cy="575.9" rx="1.73" ry="1.67" fill="#6a8ec0" opacity="1"/><ellipse cx="710.0" cy="586.4" rx="1.15" ry="1.93" fill="#6a8ec0" opacity="1"/><ellipse cx="696.6" cy="579.6" rx="1.24" ry="1.87" fill="#2e3448" opacity="1"/><ellipse cx="663.6" cy="590.8" rx="1.46" ry="1.54" fill="#6a8ec0" opacity="1"/><ellipse cx="706.9" cy="576.5" rx="1.43" ry="1.93" fill="#e6eef6" opacity="1"/><ellipse cx="706.9" cy="580.6" rx="1.68" ry="2.22" fill="#5a4a48" opacity="1"/><ellipse cx="690.8" cy="573.3" rx="1.27" ry="1.98" fill="#5a4a48" opacity="1"/><ellipse cx="673.2" cy="583.4" rx="1.67" ry="2.13" fill="#c89a80" opacity="1"/><ellipse cx="712.0" cy="580.1" rx="1.16" ry="2.31" fill="#6a8ec0" opacity="1"/><ellipse cx="688.5" cy="578.1" rx="1.58" ry="1.87" fill="#90b8e0" opacity="1"/><ellipse cx="685.8" cy="587.5" rx="1.31" ry="1.65" fill="#c89a80" opacity="1"/><ellipse cx="699.4" cy="591.0" rx="1.31" ry="2.30" fill="#90b8e0" opacity="1"/><ellipse cx="706.9" cy="582.6" rx="1.32" ry="1.72" fill="#2e3448" opacity="1"/><ellipse cx="687.5" cy="576.2" rx="1.72" ry="2.41" fill="#6a8ec0" opacity="1"/><ellipse cx="673.3" cy="574.3" rx="1.58" ry="1.81" fill="#e6eef6" opacity="1"/><ellipse cx="701.9" cy="585.5" rx="1.58" ry="1.82" fill="#e6eef6" opacity="1"/><ellipse cx="688.8" cy="591.8" rx="1.24" ry="2.48" fill="#2e3448" opacity="1"/><ellipse cx="666.3" cy="582.4" rx="1.56" ry="1.59" fill="#5a4a48" opacity="1"/><ellipse cx="667.5" cy="588.5" rx="1.85" ry="2.46" fill="#2e3448" opacity="1"/><ellipse cx="660.2" cy="575.5" rx="1.28" ry="1.54" fill="#2e3448" opacity="1"/><ellipse cx="688.6" cy="581.8" rx="1.31" ry="2.09" fill="#a4c8ea" opacity="1"/><ellipse cx="691.0" cy="577.8" rx="1.78" ry="1.34" fill="#6a8ec0" opacity="1"/><ellipse cx="711.7" cy="591.6" rx="1.75" ry="2.12" fill="#e6eef6" opacity="1"/><ellipse cx="678.6" cy="573.3" rx="1.53" ry="1.44" fill="#e6eef6" opacity="1"/><ellipse cx="686.5" cy="593.7" rx="1.26" ry="1.74" fill="#2e3448" opacity="1"/><ellipse cx="681.1" cy="590.6" rx="1.56" ry="1.76" fill="#2e3448" opacity="1"/><ellipse cx="666.1" cy="581.1" rx="1.41" ry="1.56" fill="#2e3448" opacity="1"/><ellipse cx="692.0" cy="580.4" rx="1.77" ry="1.34" fill="#a4c8ea" opacity="1"/><ellipse cx="675.8" cy="592.9" rx="1.47" ry="1.71" fill="#e6eef6" opacity="1"/><ellipse cx="678.7" cy="582.1" rx="1.20" ry="1.67" fill="#5a4a48" opacity="1"/><ellipse cx="678.9" cy="593.9" rx="1.79" ry="2.02" fill="#c89a80" opacity="1"/><ellipse cx="699.6" cy="579.2" rx="1.22" ry="1.36" fill="#c89a80" opacity="1"/><ellipse cx="685.3" cy="578.9" rx="1.41" ry="1.48" fill="#e6eef6" opacity="1"/><ellipse cx="712.2" cy="578.0" rx="1.04" ry="1.49" fill="#6a8ec0" opacity="1"/><ellipse cx="657.9" cy="584.4" rx="1.24" ry="2.41" fill="#90b8e0" opacity="1"/><ellipse cx="659.2" cy="583.5" rx="1.73" ry="2.16" fill="#c89a80" opacity="1"/><ellipse cx="673.9" cy="586.1" rx="1.41" ry="2.07" fill="#e6eef6" opacity="1"/><ellipse cx="707.6" cy="592.5" rx="1.02" ry="1.48" fill="#c89a80" opacity="1"/><ellipse cx="687.7" cy="580.0" rx="1.26" ry="1.94" fill="#6a8ec0" opacity="1"/><ellipse cx="677.2" cy="587.7" rx="1.70" ry="1.49" fill="#a4c8ea" opacity="1"/><ellipse cx="671.6" cy="582.7" rx="1.79" ry="2.35" fill="#e6eef6" opacity="1"/><ellipse cx="668.1" cy="582.1" rx="1.70" ry="2.02" fill="#5a4a48" opacity="1"/><ellipse cx="697.7" cy="586.6" rx="1.42" ry="2.38" fill="#6a8ec0" opacity="1"/><ellipse cx="684.4" cy="587.7" rx="1.62" ry="2.36" fill="#6a8ec0" opacity="1"/><ellipse cx="683.8" cy="569.3" rx="1.25" ry="4.66" fill="#8aa8d0" opacity="1"/><ellipse cx="677.0" cy="570.5" rx="1.69" ry="3.44" fill="#4a4a5a" opacity="1"/><ellipse cx="696.6" cy="573.9" rx="1.28" ry="4.84" fill="#4a4a5a" opacity="1"/><ellipse cx="681.6" cy="566.7" rx="1.16" ry="2.97" fill="#4a4a5a" opacity="1"/><ellipse cx="662.1" cy="573.3" rx="1.87" ry="4.70" fill="#c8c8d0" opacity="1"/><ellipse cx="669.8" cy="567.4" rx="1.87" ry="4.71" fill="#c8c8d0" opacity="1"/><ellipse cx="708.1" cy="569.6" rx="1.44" ry="2.77" fill="#4a4a5a" opacity="1"/><ellipse cx="706.7" cy="575.8" rx="1.17" ry="3.54" fill="#c8c8d0" opacity="1"/><ellipse cx="666.2" cy="567.6" rx="1.82" ry="4.62" fill="#4a4a5a" opacity="1"/><ellipse cx="658.9" cy="574.3" rx="1.30" ry="4.62" fill="#c8c8d0" opacity="1"/><ellipse cx="659.1" cy="565.7" rx="1.63" ry="2.71" fill="#8aa8d0" opacity="1"/><ellipse cx="689.7" cy="571.4" rx="1.31" ry="2.83" fill="#8aa8d0" opacity="1"/><ellipse cx="693.3" cy="565.8" rx="1.67" ry="3.07" fill="#4a4a5a" opacity="1"/><ellipse cx="697.7" cy="565.1" rx="1.37" ry="4.24" fill="#8aa8d0" opacity="1"/></g></g>
<clipPath id="cp7"><rect x="739.3" y="563.0" width="22.4" height="28.5"/></clipPath><g clip-path="url(#cp7)"><rect x="739.3" y="563.0" width="22.4" height="28.5" fill="#d4ccb8"/><g filter="url(#bl)"><rect x="739.3" y="563.0" width="22.4" height="10.0" fill="#cfc6ae" opacity="1"/><ellipse cx="751.6" cy="568.7" rx="3.58" ry="2.85" fill="#8a5a40" opacity="1"/><rect x="746.0" y="571.5" width="10.1" height="19.9" fill="#5a82b2" opacity="1"/><polygon points="739.3,570.1 750.5,573.0 750.5,575.8 739.3,574.4" fill="#eeeeee" opacity="1"/><rect x="756.1" y="571.5" width="5.6" height="14.2" fill="#c8a888" opacity="1"/></g></g>
<clipPath id="cp8"><rect x="765.0" y="564.6" width="26.9" height="29.4"/></clipPath><g clip-path="url(#cp8)"><rect x="765.0" y="564.6" width="26.9" height="29.4" fill="#8a5a30"/><g filter="url(#bl)"><rect x="765.0" y="564.6" width="26.9" height="8.8" fill="#4e6e36" opacity="1"/><polygon points="765.0,576.4 783.8,569.0 791.9,573.4 791.9,577.8 773.1,585.2 765.0,583.7" fill="#e6ded0" opacity="1"/><rect x="765.0" y="582.8" width="26.9" height="11.2" fill="#b06a2e" opacity="1"/><ellipse cx="783.8" cy="585.2" rx="6.72" ry="5.88" fill="#c88040" opacity="1"/></g></g>
<clipPath id="cp9"><rect x="706.0" y="591.9" width="24.0" height="22.9"/></clipPath><g clip-path="url(#cp9)"><rect x="706.0" y="591.9" width="24.0" height="22.9" fill="#a86c34"/><g filter="url(#bl)"><ellipse cx="713.2" cy="598.8" rx="7.20" ry="5.72" fill="#c08848" opacity="1"/><ellipse cx="722.8" cy="603.4" rx="7.20" ry="5.72" fill="#b87a3a" opacity="1"/><rect x="706.0" y="608.4" width="24.0" height="1.8" fill="#e8d8c8" opacity="1"/><rect x="706.0" y="609.8" width="24.0" height="5.0" fill="#c42424" opacity="1"/></g></g>
<clipPath id="cp10"><rect x="734.1" y="591.9" width="52.3" height="23.2"/></clipPath><g clip-path="url(#cp10)"><rect x="734.1" y="591.9" width="52.3" height="23.2" fill="#c6d6e4"/><g filter="url(#bl)"><rect x="734.1" y="591.9" width="52.3" height="11.6" fill="#d6e2ec" opacity="1"/><ellipse cx="740.4" cy="607.0" rx="3.14" ry="9.74" fill="#e8eef4" opacity="1"/><ellipse cx="749.8" cy="608.1" rx="3.66" ry="8.12" fill="#2e3a50" opacity="1"/><ellipse cx="757.6" cy="605.8" rx="3.66" ry="9.28" fill="#5aa4cc" opacity="1"/><ellipse cx="765.5" cy="607.0" rx="4.18" ry="9.28" fill="#405878" opacity="1"/><ellipse cx="773.3" cy="604.7" rx="3.14" ry="9.28" fill="#6a8aa8" opacity="1"/><ellipse cx="780.1" cy="608.1" rx="3.14" ry="8.12" fill="#5a6a80" opacity="1"/><rect x="734.1" y="612.3" width="52.3" height="2.8" fill="#a8acb0" opacity="1"/></g></g>
<clipPath id="cp11"><rect x="489.0" y="625.3" width="70.0" height="36.4"/></clipPath><g clip-path="url(#cp11)"><rect x="489.0" y="625.3" width="70.0" height="36.4" fill="#8e8680"/><g filter="url(#bl)"><rect x="489.0" y="625.3" width="70.0" height="11.6" fill="#86a06c" opacity="1"/><rect x="503.0" y="625.3" width="42.0" height="4.4" fill="#a88a68" opacity="1"/><rect x="541.5" y="625.3" width="17.5" height="18.2" fill="#d4d8d0" opacity="1"/><rect x="489.0" y="636.2" width="70.0" height="16.4" fill="#a8a098" opacity="1"/><rect x="527.5" y="636.2" width="21.0" height="16.4" fill="#bcb8b2" opacity="1"/><ellipse cx="496.0" cy="654.4" rx="7.00" ry="8.01" fill="#2e2a2a" opacity="1"/><ellipse cx="498.8" cy="645.3" rx="3.50" ry="3.28" fill="#2a2424" opacity="1"/><rect x="504.4" y="647.1" width="15.4" height="9.1" fill="#cfcac4" opacity="1"/><ellipse cx="520.5" cy="653.7" rx="6.30" ry="8.01" fill="#3e3834" opacity="1"/><ellipse cx="521.9" cy="645.3" rx="3.15" ry="3.28" fill="#2a2424" opacity="1"/><rect x="489.0" y="657.3" width="70.0" height="4.4" fill="#5a5250" opacity="1"/><ellipse cx="512.9" cy="636.9" rx="1.37" ry="1.35" fill="#ecebe8" opacity="1"/><ellipse cx="515.5" cy="635.4" rx="1.27" ry="1.31" fill="#c8b8a8" opacity="1"/><ellipse cx="518.8" cy="638.3" rx="1.30" ry="1.34" fill="#ecebe8" opacity="1"/><ellipse cx="552.2" cy="644.7" rx="1.32" ry="1.34" fill="#c8b8a8" opacity="1"/><ellipse cx="495.6" cy="638.0" rx="1.30" ry="1.42" fill="#c8b8a8" opacity="1"/><ellipse cx="501.6" cy="636.3" rx="1.12" ry="2.17" fill="#3a3634" opacity="1"/><ellipse cx="499.0" cy="643.8" rx="1.02" ry="1.38" fill="#ecebe8" opacity="1"/><ellipse cx="528.1" cy="644.5" rx="1.26" ry="1.85" fill="#7a6a60" opacity="1"/><ellipse cx="521.8" cy="649.5" rx="1.16" ry="1.55" fill="#3a3634" opacity="1"/><ellipse cx="536.5" cy="638.4" rx="1.32" ry="1.85" fill="#7a6a60" opacity="1"/><ellipse cx="538.5" cy="639.1" rx="1.62" ry="1.40" fill="#c8b8a8" opacity="1"/><ellipse cx="502.9" cy="640.0" rx="1.59" ry="1.73" fill="#ecebe8" opacity="1"/><ellipse cx="540.7" cy="643.8" rx="1.54" ry="1.62" fill="#7a6a60" opacity="1"/><ellipse cx="529.9" cy="643.9" rx="1.23" ry="2.19" fill="#7a6a60" opacity="1"/><ellipse cx="522.4" cy="645.3" rx="0.93" ry="2.04" fill="#c8b8a8" opacity="1"/><ellipse cx="510.4" cy="640.7" rx="1.39" ry="1.30" fill="#c8b8a8" opacity="1"/><ellipse cx="514.9" cy="644.4" rx="1.26" ry="1.51" fill="#7a6a60" opacity="1"/><ellipse cx="500.6" cy="638.5" rx="1.18" ry="2.23" fill="#ecebe8" opacity="1"/><ellipse cx="503.0" cy="641.0" rx="1.09" ry="1.42" fill="#c8b8a8" opacity="1"/><ellipse cx="546.9" cy="639.0" rx="1.20" ry="1.67" fill="#c8b8a8" opacity="1"/><ellipse cx="552.8" cy="636.9" rx="1.02" ry="1.53" fill="#3a3634" opacity="1"/><ellipse cx="493.3" cy="648.0" rx="1.02" ry="1.58" fill="#3a3634" opacity="1"/><ellipse cx="518.9" cy="640.4" rx="1.31" ry="2.31" fill="#ecebe8" opacity="1"/><ellipse cx="521.3" cy="648.7" rx="1.60" ry="2.02" fill="#c8b8a8" opacity="1"/><ellipse cx="517.6" cy="640.9" rx="1.25" ry="1.71" fill="#3a3634" opacity="1"/><ellipse cx="496.7" cy="637.8" rx="1.00" ry="1.65" fill="#ecebe8" opacity="1"/><ellipse cx="498.9" cy="643.7" rx="1.29" ry="2.31" fill="#ecebe8" opacity="1"/><ellipse cx="496.9" cy="637.8" rx="1.17" ry="1.97" fill="#7a6a60" opacity="1"/><ellipse cx="530.4" cy="642.2" rx="0.97" ry="1.81" fill="#c8b8a8" opacity="1"/><ellipse cx="522.8" cy="639.5" rx="0.99" ry="2.09" fill="#7a6a60" opacity="1"/></g></g>
<clipPath id="cp12"><rect x="542.8" y="635.0" width="31.3" height="43.8"/></clipPath><g clip-path="url(#cp12)"><rect x="542.8" y="635.0" width="31.3" height="43.8" fill="#ddd5cc"/><g filter="url(#bl)"><rect x="542.8" y="635.0" width="31.3" height="19.7" fill="#e0d8d0" opacity="1"/><ellipse cx="558.4" cy="642.4" rx="3.13" ry="3.07" fill="#6a4a38" opacity="1"/><ellipse cx="558.4" cy="646.8" rx="5.32" ry="2.19" fill="#3a3030" opacity="1"/><rect x="544.4" y="656.9" width="28.2" height="12.3" fill="#62bcd0" opacity="1"/><rect x="551.6" y="656.0" width="3.1" height="13.1" fill="#eeeef2" opacity="1"/><rect x="544.4" y="667.4" width="26.6" height="4.4" fill="#2e3444" opacity="1"/><rect x="569.4" y="656.0" width="4.7" height="17.5" fill="#c83a3a" opacity="1"/><rect x="542.8" y="671.8" width="31.3" height="7.0" fill="#c4bcb4" opacity="1"/><ellipse cx="547.2" cy="655.1" rx="1.88" ry="1.75" fill="#3a2a22" opacity="1"/><ellipse cx="552.8" cy="654.7" rx="1.88" ry="1.75" fill="#3a2a22" opacity="1"/><ellipse cx="558.4" cy="655.1" rx="1.88" ry="1.75" fill="#3a2a22" opacity="1"/><ellipse cx="564.1" cy="654.7" rx="1.88" ry="1.75" fill="#2a2020" opacity="1"/><ellipse cx="569.7" cy="655.6" rx="1.88" ry="1.75" fill="#3a2a22" opacity="1"/><rect x="545.9" y="671.8" width="1.9" height="4.4" fill="#c89a80" opacity="1"/><rect x="552.2" y="671.8" width="1.9" height="4.4" fill="#c89a80" opacity="1"/><rect x="558.4" y="671.8" width="1.9" height="4.4" fill="#c89a80" opacity="1"/><rect x="564.7" y="671.8" width="1.9" height="4.4" fill="#c89a80" opacity="1"/></g></g>
<clipPath id="cp13"><rect x="737.2" y="624.7" width="60.2" height="31.5"/></clipPath><g clip-path="url(#cp13)"><rect x="737.2" y="624.7" width="60.2" height="31.5" fill="#a2a8a2"/><g filter="url(#bl)"><rect x="737.2" y="624.7" width="60.2" height="11.3" fill="#6e9456" opacity="1"/><rect x="755.3" y="624.7" width="24.1" height="4.7" fill="#90b070" opacity="1"/><rect x="742.0" y="624.7" width="3.6" height="20.5" fill="#2a2e2a" opacity="1"/><rect x="737.2" y="636.0" width="60.2" height="20.2" fill="#a4a8a2" opacity="1"/><ellipse cx="786.6" cy="649.9" rx="9.63" ry="6.93" fill="#7a9a40" opacity="1"/><ellipse cx="782.4" cy="651.8" rx="4.21" ry="3.78" fill="#d8b830" opacity="1"/><ellipse cx="792.6" cy="646.8" rx="3.61" ry="3.78" fill="#3a70b0" opacity="1"/><ellipse cx="764.3" cy="647.4" rx="4.82" ry="5.67" fill="#2a2628" opacity="1"/><ellipse cx="744.4" cy="646.1" rx="4.21" ry="5.04" fill="#2a2628" opacity="1"/><ellipse cx="757.2" cy="641.6" rx="0.78" ry="1.87" fill="#e8e8e8" opacity="1"/><ellipse cx="796.9" cy="640.3" rx="0.92" ry="1.53" fill="#5a8ac0" opacity="1"/><ellipse cx="760.6" cy="637.3" rx="0.67" ry="1.99" fill="#e8e8e8" opacity="1"/><ellipse cx="756.2" cy="642.0" rx="0.91" ry="2.11" fill="#3a3a3a" opacity="1"/><ellipse cx="797.3" cy="642.0" rx="0.88" ry="2.02" fill="#e8e8e8" opacity="1"/><ellipse cx="795.3" cy="640.7" rx="0.81" ry="2.06" fill="#3a3a3a" opacity="1"/><ellipse cx="750.4" cy="642.0" rx="0.54" ry="2.24" fill="#e8e8e8" opacity="1"/><ellipse cx="771.1" cy="640.8" rx="0.65" ry="1.87" fill="#e8e8e8" opacity="1"/><ellipse cx="781.3" cy="640.3" rx="0.86" ry="1.41" fill="#e8e8e8" opacity="1"/><ellipse cx="759.3" cy="643.4" rx="0.89" ry="2.18" fill="#5a8ac0" opacity="1"/><ellipse cx="796.9" cy="637.7" rx="0.75" ry="1.96" fill="#3a3a3a" opacity="1"/><ellipse cx="758.9" cy="643.1" rx="0.89" ry="1.79" fill="#3a3a3a" opacity="1"/><ellipse cx="795.2" cy="640.5" rx="0.64" ry="1.87" fill="#3a3a3a" opacity="1"/><ellipse cx="750.5" cy="637.9" rx="0.82" ry="2.45" fill="#3a3a3a" opacity="1"/></g></g>
<clipPath id="cp14"><rect x="729.8" y="646.6" width="40.9" height="31.2"/></clipPath><g clip-path="url(#cp14)"><rect x="729.8" y="646.6" width="40.9" height="31.2" fill="#56646c"/><g filter="url(#bl)"><rect x="729.8" y="646.6" width="40.9" height="10.6" fill="#4e5c56" opacity="1"/><rect x="746.2" y="646.6" width="12.3" height="9.4" fill="#6a7a78" opacity="1"/><rect x="729.8" y="656.6" width="40.9" height="11.2" fill="#7cc6d8" opacity="1"/><rect x="747.8" y="652.2" width="4.1" height="18.7" fill="#3a3a5c" opacity="1"/><rect x="729.8" y="667.2" width="40.9" height="4.4" fill="#2a3044" opacity="1"/><rect x="729.8" y="671.6" width="40.9" height="6.2" fill="#8e949a" opacity="1"/><ellipse cx="733.1" cy="656.0" rx="2.04" ry="2.18" fill="#3a2a22" opacity="1"/><ellipse cx="738.8" cy="656.6" rx="2.04" ry="2.18" fill="#3a2a22" opacity="1"/><ellipse cx="744.1" cy="656.0" rx="2.04" ry="2.18" fill="#2a2020" opacity="1"/><ellipse cx="749.8" cy="651.6" rx="2.04" ry="2.18" fill="#3a2a22" opacity="1"/><ellipse cx="755.2" cy="656.0" rx="2.04" ry="2.18" fill="#3a2a22" opacity="1"/><ellipse cx="760.9" cy="656.6" rx="2.04" ry="2.18" fill="#2a2020" opacity="1"/><ellipse cx="766.6" cy="656.0" rx="2.04" ry="2.18" fill="#3a2a22" opacity="1"/><rect x="735.5" y="657.5" width="0.6" height="14.0" fill="#dfeff4" opacity="1"/><rect x="742.1" y="657.5" width="0.6" height="14.0" fill="#dfeff4" opacity="1"/><rect x="758.4" y="657.5" width="0.6" height="14.0" fill="#dfeff4" opacity="1"/><rect x="764.2" y="657.5" width="0.6" height="14.0" fill="#dfeff4" opacity="1"/></g></g>
<clipPath id="cp15"><rect x="812.8" y="593.4" width="62.2" height="46.4"/></clipPath><g clip-path="url(#cp15)"><rect x="812.8" y="593.4" width="62.2" height="46.4" fill="#5a8a40"/><g filter="url(#bl)"><rect x="812.8" y="593.4" width="62.2" height="27.8" fill="#5a8e44" opacity="1"/><rect x="847.0" y="593.4" width="28.0" height="13.9" fill="#86aa6c" opacity="1"/><rect x="812.8" y="593.4" width="12.4" height="23.2" fill="#4a7a38" opacity="1"/><rect x="812.8" y="629.6" width="62.2" height="10.2" fill="#8c8672" opacity="1"/><rect x="817.8" y="610.1" width="8.7" height="16.7" fill="#e04a48" opacity="1"/><rect x="819.0" y="626.8" width="5.0" height="10.2" fill="#2a2a2a" opacity="1"/><rect x="826.5" y="607.3" width="6.2" height="15.8" fill="#2a2830" opacity="1"/><rect x="826.5" y="623.1" width="5.6" height="13.0" fill="#c8d0e0" opacity="1"/><rect x="833.3" y="608.7" width="6.2" height="18.6" fill="#c0606c" opacity="1"/><rect x="839.5" y="605.0" width="7.5" height="23.2" fill="#2e2a40" opacity="1"/><rect x="847.0" y="607.3" width="6.2" height="20.9" fill="#e0c8d0" opacity="1"/><rect x="853.2" y="607.3" width="6.2" height="20.9" fill="#e8b8c4" opacity="1"/><rect x="859.4" y="608.2" width="6.2" height="19.5" fill="#5a7ab0" opacity="1"/><rect x="865.7" y="607.3" width="5.0" height="20.9" fill="#3a4456" opacity="1"/><ellipse cx="822.1" cy="608.2" rx="2.80" ry="2.78" fill="#2a2020" opacity="1"/><ellipse cx="829.6" cy="604.5" rx="2.49" ry="2.78" fill="#1e1a1a" opacity="1"/><ellipse cx="836.4" cy="606.4" rx="2.49" ry="2.78" fill="#3a2a22" opacity="1"/><ellipse cx="843.3" cy="602.7" rx="2.80" ry="2.78" fill="#1e1a1a" opacity="1"/><ellipse cx="850.1" cy="605.5" rx="2.49" ry="2.78" fill="#4a3a30" opacity="1"/><ellipse cx="856.3" cy="605.9" rx="2.49" ry="2.78" fill="#2a2020" opacity="1"/><ellipse cx="862.6" cy="606.4" rx="2.49" ry="2.78" fill="#2a2020" opacity="1"/><ellipse cx="868.2" cy="605.5" rx="2.18" ry="2.78" fill="#1e1a1a" opacity="1"/></g></g>
<clipPath id="cp16"><rect x="879.3" y="610.0" width="42.9" height="28.4"/></clipPath><g clip-path="url(#cp16)"><rect x="879.3" y="610.0" width="42.9" height="28.4" fill="#807a70"/><g filter="url(#bl)"><rect x="879.3" y="610.0" width="42.9" height="8.5" fill="#8a6c48" opacity="1"/><rect x="879.3" y="618.0" width="42.9" height="8.5" fill="#3e3e30" opacity="1"/><polygon points="879.3,631.3 907.2,624.2 907.2,638.4 879.3,638.4" fill="#b8b4a8" opacity="1"/><rect x="879.3" y="635.6" width="17.2" height="2.8" fill="#5a5a50" opacity="1"/><ellipse cx="911.9" cy="630.4" rx="4.29" ry="8.52" fill="#1e1e1e" opacity="1"/></g></g>
<clipPath id="cp17"><rect x="909.8" y="593.4" width="62.1" height="40.8"/></clipPath><g clip-path="url(#cp17)"><rect x="909.8" y="593.4" width="62.1" height="40.8" fill="#8a8070"/><g filter="url(#bl)"><rect x="909.8" y="593.4" width="62.1" height="11.4" fill="#9a7448" opacity="1"/><rect x="909.8" y="602.4" width="62.1" height="9.0" fill="#4e7034" opacity="1"/><rect x="925.3" y="609.7" width="43.5" height="8.2" fill="#a84040" opacity="1"/><rect x="916.0" y="610.5" width="9.3" height="7.3" fill="#3a3030" opacity="1"/><rect x="909.8" y="617.9" width="62.1" height="16.3" fill="#bcb8ac" opacity="1"/><rect x="956.4" y="615.8" width="15.5" height="8.2" fill="#3a3a3a" opacity="1"/></g></g>
<text x="578" y="503.4" font-size="6.1" fill="#1e1e1e" stroke="#1e1e1e" stroke-width="0.12" textLength="209.6" lengthAdjust="spacingAndGlyphs" xml:space="preserve">No dia 07, foi realizado o torneio interno de judô, aberto para a presença dos</text>
<text x="578" y="512.1" font-size="6.1" fill="#1e1e1e" stroke="#1e1e1e" stroke-width="0.12" textLength="217" lengthAdjust="spacingAndGlyphs" xml:space="preserve">pais e responsáveis, que puderam observar a evolução dos seus filhos. O evento</text>
<text x="578" y="520.0" font-size="6.1" fill="#1e1e1e" stroke="#1e1e1e" stroke-width="0.12" textLength="129.7" lengthAdjust="spacingAndGlyphs" xml:space="preserve">contou com a participação de <tspan font-weight="bold">39</tspan> alunos do polo</text>
<text x="622.3" y="527.5" font-size="6.1" fill="#1e1e1e" stroke="#1e1e1e" stroke-width="0.12" textLength="143.9" lengthAdjust="spacingAndGlyphs" xml:space="preserve"><tspan font-weight="bold">2 – Miguel Badra e 40</tspan> alunos do polo <tspan font-weight="bold">1 - Dom Bosco</tspan></text>
<text x="622.3" y="536.0" font-size="6.1" fill="#1e1e1e" stroke="#1e1e1e" stroke-width="0.12" textLength="145.1" lengthAdjust="spacingAndGlyphs" xml:space="preserve">Os professores Alex e Wesley dividiram as turmas por</text>
<text x="622.3" y="544.5" font-size="6.1" fill="#1e1e1e" stroke="#1e1e1e" stroke-width="0.12" textLength="130.2" lengthAdjust="spacingAndGlyphs" xml:space="preserve">grupos faixa etária para uma melhor avaliação e</text>
<text x="622.3" y="552.5" font-size="6.1" fill="#1e1e1e" stroke="#1e1e1e" stroke-width="0.12" textLength="88.2" lengthAdjust="spacingAndGlyphs" xml:space="preserve">troca de faixas dos participantes.</text>
<text x="487.3" y="570.9" font-size="6.1" fill="#1e1e1e" stroke="#1e1e1e" stroke-width="0.12" textLength="154" lengthAdjust="spacingAndGlyphs" xml:space="preserve">No dia 11, foi a vez de encerrarmos os projetos culturais,</text>
<text x="487.3" y="578.4" font-size="6.1" fill="#1e1e1e" stroke="#1e1e1e" stroke-width="0.12" textLength="131" lengthAdjust="spacingAndGlyphs" xml:space="preserve">com realização de gincanas e diversas atividades.</text>
<text x="487.3" y="586.5" font-size="6.1" fill="#1e1e1e" stroke="#1e1e1e" stroke-width="0.12" textLength="151.8" lengthAdjust="spacingAndGlyphs" xml:space="preserve">Contamos com a participação de <tspan font-weight="bold">110</tspan> alunos no período</text>
<text x="487.3" y="594.6" font-size="6.1" fill="#1e1e1e" stroke="#1e1e1e" stroke-width="0.12" textLength="154.4" lengthAdjust="spacingAndGlyphs" xml:space="preserve">manhã e <tspan font-weight="bold">124</tspan> alunos no período tarde, unificando os dois</text>
<text x="487.3" y="602.9" font-size="6.1" fill="#1e1e1e" stroke="#1e1e1e" stroke-width="0.12" textLength="186.3" lengthAdjust="spacingAndGlyphs" xml:space="preserve">polos em um só evento com piquenique compartilhado e entrega de</text>
<text x="487.3" y="611.0" font-size="6.1" fill="#1e1e1e" stroke="#1e1e1e" stroke-width="0.12" textLength="62.4" lengthAdjust="spacingAndGlyphs" xml:space="preserve">lembrancinha de natal.</text>
<text x="594.5" y="629.5" font-size="6.1" fill="#1e1e1e" stroke="#1e1e1e" stroke-width="0.12" textLength="116.1" lengthAdjust="spacingAndGlyphs" xml:space="preserve">No dia 13 – Foi realizado o torneio de xadrez,</text>
<text x="582" y="637.6" font-size="6.1" fill="#1e1e1e" stroke="#1e1e1e" stroke-width="0.12" textLength="142.2" lengthAdjust="spacingAndGlyphs" xml:space="preserve">coordenado pela professora Diana e o torneio de Vôlei,</text>
<text x="582.8" y="645.4" font-size="6.1" fill="#1e1e1e" stroke="#1e1e1e" stroke-width="0.12" textLength="139.9" lengthAdjust="spacingAndGlyphs" xml:space="preserve">coordenado pela professora Elisângela, unindo os dois</text>
<text x="587.5" y="653" font-size="6.1" fill="#1e1e1e" stroke="#1e1e1e" stroke-width="0.12" textLength="130.5" lengthAdjust="spacingAndGlyphs" xml:space="preserve">polos <tspan font-weight="bold">Dom Bosco</tspan> e <tspan font-weight="bold">Miguel Badra</tspan>, as turmas foram</text>
<text x="589.8" y="660.8" font-size="6.1" fill="#1e1e1e" stroke="#1e1e1e" stroke-width="0.12" textLength="126.6" lengthAdjust="spacingAndGlyphs" xml:space="preserve">divididas por idade, categoria e gênero, sendo os</text>
<text x="588.3" y="668.6" font-size="6.1" fill="#1e1e1e" stroke="#1e1e1e" stroke-width="0.12" textLength="129.7" lengthAdjust="spacingAndGlyphs" xml:space="preserve">vencedores premiados com medalhas. Os torneios</text>
<text x="589.4" y="676.4" font-size="6.1" fill="#1e1e1e" stroke="#1e1e1e" stroke-width="0.12" textLength="127.0" lengthAdjust="spacingAndGlyphs" xml:space="preserve">contaram com à presença de pais e responsáveis.</text>
<text x="807.9" y="549.2" font-size="6.1" fill="#1e1e1e" stroke="#1e1e1e" stroke-width="0.12" textLength="160.3" lengthAdjust="spacingAndGlyphs" xml:space="preserve">No dia 14, Os alunos do curso de percussão, coordenador pelo</text>
<text x="807.2" y="556.9" font-size="6.1" fill="#1e1e1e" stroke="#1e1e1e" stroke-width="0.12" textLength="162.2" lengthAdjust="spacingAndGlyphs" xml:space="preserve">professor João Paulo, fizeram uma apresentação para todos os</text>
<text x="812" y="564.2" font-size="6.1" fill="#1e1e1e" stroke="#1e1e1e" stroke-width="0.12" textLength="151.6" lengthAdjust="spacingAndGlyphs" xml:space="preserve">pais e responsáveis que estavam prestigiando o evento. Na</text>
<text x="812" y="572" font-size="6.1" fill="#1e1e1e" stroke="#1e1e1e" stroke-width="0.12" textLength="153.3" lengthAdjust="spacingAndGlyphs" xml:space="preserve">sequência foi realizado o torneio de futsal, com o professor</text>
<text x="812.8" y="579.9" font-size="6.1" fill="#1e1e1e" stroke="#1e1e1e" stroke-width="0.12" textLength="150.8" lengthAdjust="spacingAndGlyphs" xml:space="preserve">Jorge, as turmas foram divididas em categorias de idade e</text>
<text x="830.6" y="587.6" font-size="6.1" fill="#1e1e1e" stroke="#1e1e1e" stroke-width="0.12" textLength="113.9" lengthAdjust="spacingAndGlyphs" xml:space="preserve">gênero, com premiação para os vencedores.</text>
<text x="804.6" y="647.6" font-size="6.1" fill="#1e1e1e" stroke="#1e1e1e" stroke-width="0.12" textLength="166.9" lengthAdjust="spacingAndGlyphs" xml:space="preserve">Nos dias 12 e 13, houve o encerramento e confraternização para</text>
<text x="810" y="655.5" font-size="6.1" fill="#1e1e1e" stroke="#1e1e1e" stroke-width="0.12" textLength="155.7" lengthAdjust="spacingAndGlyphs" xml:space="preserve">os alunos dos cursos de <tspan font-weight="bold">Auxiliar Administrativo</tspan> (12 alunos),</text>
<text x="813.5" y="663.1" font-size="6.1" fill="#1e1e1e" stroke="#1e1e1e" stroke-width="0.12" textLength="149.1" lengthAdjust="spacingAndGlyphs" xml:space="preserve"><tspan font-weight="bold">Eletricista Instalador</tspan> (16 alunos) e <tspan font-weight="bold">Informática Básica</tspan> (21</text>
<text x="812.8" y="671" font-size="6.1" fill="#1e1e1e" stroke="#1e1e1e" stroke-width="0.12" textLength="149.8" lengthAdjust="spacingAndGlyphs" xml:space="preserve">alunos) com entrega de certificado do curso EAD – <tspan font-weight="bold">Gestão</tspan></text>
<text x="837.3" y="678.7" font-size="6.1" fill="#1e1e1e" stroke="#1e1e1e" stroke-width="0.12" textLength="101.0" lengthAdjust="spacingAndGlyphs" xml:space="preserve"><tspan font-weight="bold">Integrada Aplicada à Logística (SENAI).</tspan></text>
<circle cx="79.5" cy="696.3" r="6.4" fill="#F2AE2E"/><path d="M77,693.5 q0,4 4.5,5.5 l1,-1.2 -1.5,-1 -0.8,0.6 q-1.6,-0.8 -2,-2.2 l0.6,-0.8 -1,-1.5 z" fill="#E89420"/>
<text x="95" y="699.6" font-size="9.3" fill="#333" font-weight="bold" stroke="#333" stroke-width="0.28" textLength="66" lengthAdjust="spacingAndGlyphs">(11) 4743-7590</text>
<circle cx="236.3" cy="696.3" r="6.2" fill="#E0356E"/><path d="M237.3,702.4 v-4.8 h1.6 l0.3,-1.8 h-1.9 v-1.1 c0,-0.6 0.3,-0.9 0.9,-0.9 h1 v-1.6 c-0.4,0 -0.9,-0.1 -1.5,-0.1 c-1.5,0 -2.4,0.9 -2.4,2.4 v1.3 h-1.6 v1.8 h1.6 v4.8 z" fill="#fff"/>
<text x="251" y="699.6" font-size="9.3" fill="#333" font-weight="bold" stroke="#333" stroke-width="0.28" textLength="91.5" lengthAdjust="spacingAndGlyphs">/instituto.emaus.org</text>
<circle cx="539.5" cy="696.3" r="6.2" fill="#1BA39A"/><rect x="535.8" y="692.6" width="7.4" height="7.4" rx="2" fill="none" stroke="#fff" stroke-width="1"/><circle cx="539.5" cy="696.3" r="1.7" fill="none" stroke="#fff" stroke-width="0.9"/>
<text x="558" y="699.6" font-size="9.3" fill="#333" font-weight="bold" stroke="#333" stroke-width="0.28" textLength="68" lengthAdjust="spacingAndGlyphs">instituto.emaus</text>
<g stroke="#F4B04A" stroke-width="0.8" fill="#fff"><circle cx="738.5" cy="695.3" r="6"/><ellipse cx="738.5" cy="695.3" rx="2.6" ry="6" fill="none"/><line x1="732.5" y1="695.3" x2="744.5" y2="695.3"/><line x1="733.2" y1="692.3" x2="743.8" y2="692.3"/><line x1="733.2" y1="698.3" x2="743.8" y2="698.3"/><line x1="741" y1="699.5" x2="743.5" y2="702.5" stroke-width="1.4"/></g>
<text x="780.5" y="699.6" font-size="9.3" fill="#333" font-weight="bold" stroke="#333" stroke-width="0.28" textLength="123" lengthAdjust="spacingAndGlyphs">www.institutoemaus.org.br</text>
</svg></body></html>
